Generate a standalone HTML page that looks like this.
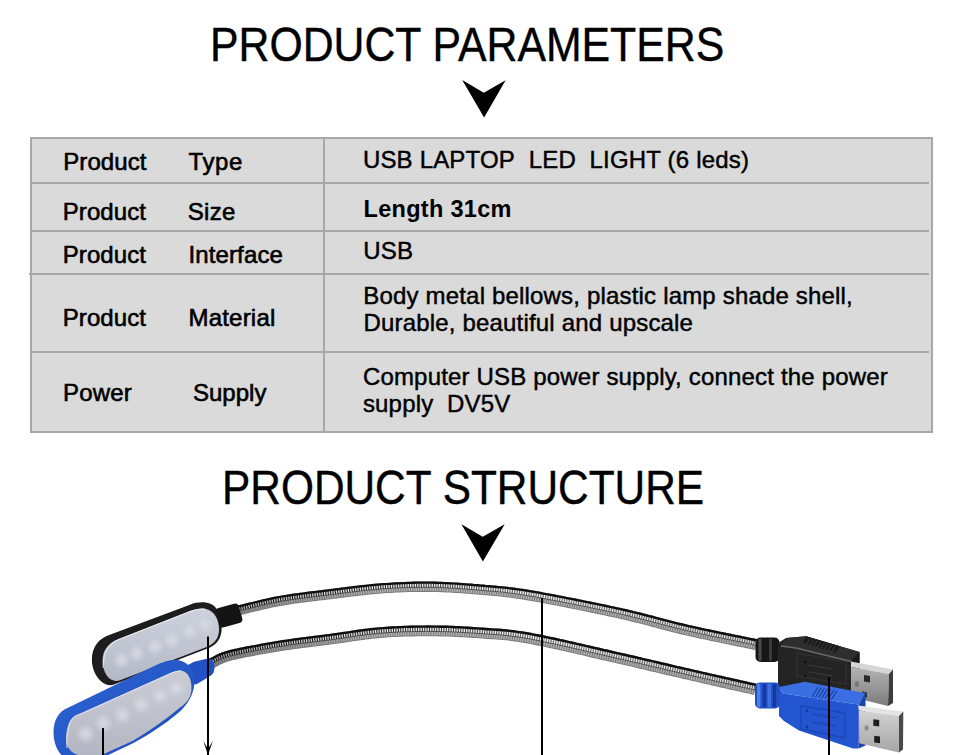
<!DOCTYPE html>
<html>
<head>
<meta charset="utf-8">
<style>
html,body{margin:0;padding:0;background:#fff;}
body{width:960px;height:755px;overflow:hidden;position:relative;font-family:"Liberation Sans",sans-serif;color:#000;}
.title{position:absolute;font-size:49.0px;white-space:nowrap;line-height:49.0px;transform-origin:0 0;-webkit-text-stroke:0.4px #000;}
#tbl{position:absolute;left:30px;top:137px;width:899px;height:292px;border:2px solid #a8a8a8;background:#dadada;}
.hl{position:absolute;left:32px;width:897px;height:2px;background:#a8a8a8;}
.vl{position:absolute;left:323px;top:139px;width:2px;height:292px;background:#a8a8a8;}
.c{position:absolute;white-space:nowrap;line-height:24px;}
svg{position:absolute;left:0;top:0;}
</style>
</head>
<body>
<div class="title" id="t1" style="left:209.6px;top:20.0px;transform:scaleX(0.873);">PRODUCT PARAMETERS</div>
<div class="title" id="t2" style="left:221.7px;top:463.0px;transform:scaleX(0.8653);">PRODUCT STRUCTURE</div>
<div id="tbl"></div>
<div class="hl" style="top:182px"></div>
<div class="hl" style="top:230px"></div>
<div class="hl" style="top:273px;left:29px;width:900px"></div>
<div class="hl" style="top:351px"></div>
<div class="vl"></div>
<div class="c" id="a1" style="left:63.20px;top:149.50px;letter-spacing:0.100px;font-size:24px;-webkit-text-stroke:0.6px #000;">Product</div>
<div class="c" id="a2" style="left:188.50px;top:149.50px;letter-spacing:0.600px;font-size:24px;-webkit-text-stroke:0.6px #000;">Type</div>
<div class="c" id="b1" style="left:62.70px;top:200.30px;letter-spacing:0.100px;font-size:24px;-webkit-text-stroke:0.6px #000;">Product</div>
<div class="c" id="b2" style="left:187.70px;top:200.30px;letter-spacing:0.300px;font-size:24px;-webkit-text-stroke:0.6px #000;">Size</div>
<div class="c" id="c1" style="left:62.70px;top:243.00px;letter-spacing:0.100px;font-size:24px;-webkit-text-stroke:0.6px #000;">Product</div>
<div class="c" id="c2" style="left:188.50px;top:243.00px;letter-spacing:0.120px;font-size:24px;-webkit-text-stroke:0.6px #000;">Interface</div>
<div class="c" id="d1" style="left:62.70px;top:306.30px;letter-spacing:0.100px;font-size:24px;-webkit-text-stroke:0.6px #000;">Product</div>
<div class="c" id="d2" style="left:188.50px;top:306.30px;letter-spacing:0.200px;font-size:24px;-webkit-text-stroke:0.6px #000;">Material</div>
<div class="c" id="e1" style="left:63.00px;top:380.50px;letter-spacing:0.200px;font-size:24px;-webkit-text-stroke:0.6px #000;">Power</div>
<div class="c" id="e2" style="left:193.00px;top:380.50px;letter-spacing:0.000px;font-size:24px;-webkit-text-stroke:0.6px #000;">Supply</div>
<div class="c" id="f1" style="left:362.90px;top:148.30px;letter-spacing:0.180px;font-size:24px;-webkit-text-stroke:0.45px #000;">USB LAPTOP&nbsp; LED&nbsp; LIGHT (6 leds)</div>
<div class="c" id="g1" style="left:363.50px;top:197.00px;letter-spacing:0.300px;font-size:23.5px;font-weight:bold;">Length 31cm</div>
<div class="c" id="h1" style="left:363.30px;top:238.70px;letter-spacing:0.180px;font-size:24px;-webkit-text-stroke:0.45px #000;">USB</div>
<div class="c" id="i1" style="left:363.30px;top:283.50px;letter-spacing:0.180px;font-size:24px;-webkit-text-stroke:0.45px #000;">Body metal bellows, plastic lamp shade shell,</div>
<div class="c" id="i2" style="left:363.50px;top:311.00px;letter-spacing:0.180px;font-size:24px;-webkit-text-stroke:0.45px #000;">Durable, beautiful and upscale</div>
<div class="c" id="j1" style="left:362.90px;top:364.80px;letter-spacing:0.180px;font-size:24px;-webkit-text-stroke:0.45px #000;">Computer USB power supply, connect the power</div>
<div class="c" id="j2" style="left:362.90px;top:391.70px;letter-spacing:0.180px;font-size:24px;-webkit-text-stroke:0.45px #000;">supply&nbsp; DV5V</div>
<svg width="960" height="755" viewBox="0 0 960 755">
<polygon points="462.2,80 483.8,92.8 505.6,80.2 484.1,117.5" fill="#000"/>
<polygon points="461.4,524.2 482.7,536.7 504.7,524.2 482.9,561.4" fill="#000"/>
<defs>
<radialGradient id="led"><stop offset="0" stop-color="#d9dce5" stop-opacity="0.95"/><stop offset="0.5" stop-color="#d4d7e0" stop-opacity="0.6"/><stop offset="1" stop-color="#cfd2dc" stop-opacity="0"/></radialGradient>
<linearGradient id="bface" x1="0" y1="0" x2="0" y2="1"><stop offset="0" stop-color="#cdd1dc"/><stop offset="0.5" stop-color="#c2c6d2"/><stop offset="1" stop-color="#b4b8c6"/></linearGradient>
<linearGradient id="uface" x1="0" y1="0" x2="0" y2="1"><stop offset="0" stop-color="#c9cbd5"/><stop offset="0.5" stop-color="#bfc1cc"/><stop offset="1" stop-color="#b3b5c2"/></linearGradient>
<linearGradient id="cabU" gradientUnits="userSpaceOnUse" x1="220" y1="0" x2="760" y2="0"><stop offset="0" stop-color="#b0b0b0"/><stop offset="0.25" stop-color="#e6e6e6"/><stop offset="0.6" stop-color="#f2f2f2"/><stop offset="1" stop-color="#dedede"/></linearGradient>
<linearGradient id="cabL" gradientUnits="userSpaceOnUse" x1="220" y1="0" x2="760" y2="0"><stop offset="0" stop-color="#8a8a8a"/><stop offset="0.3" stop-color="#b8b8b8"/><stop offset="1" stop-color="#b0b0b0"/></linearGradient>
<linearGradient id="stU" gradientUnits="userSpaceOnUse" x1="220" y1="0" x2="760" y2="0"><stop offset="0" stop-color="#000"/><stop offset="0.3" stop-color="#2a2a2a"/><stop offset="0.6" stop-color="#6a6a6a"/><stop offset="1" stop-color="#5a5a5a"/></linearGradient>
<linearGradient id="blueg" x1="0" y1="0" x2="1" y2="1"><stop offset="0" stop-color="#2f66d6"/><stop offset="1" stop-color="#1c4bb8"/></linearGradient>
</defs>
<path d="M234.9,606.1 L237.8,605.4 L240.7,604.8 L243.6,604.0 L246.5,603.3 L249.4,602.6 L252.3,601.9 L255.2,601.2 L258.1,600.4 L261.1,599.7 L264.0,599.1 L267.0,598.4 L270.0,597.7 L273.0,597.1 L276.0,596.5 L279.0,596.0 L282.0,595.4 L285.0,594.9 L288.0,594.5 L291.0,594.0 L294.0,593.6 L297.0,593.2 L300.0,592.8 L302.9,592.4 L305.9,592.0 L308.9,591.6 L311.9,591.3 L314.9,590.9 L317.9,590.5 L320.9,590.2 L323.8,589.8 L326.8,589.5 L329.8,589.1 L332.7,588.7 L335.7,588.3 L338.7,588.0 L341.6,587.6 L344.6,587.2 L347.6,586.8 L350.6,586.4 L353.6,586.1 L356.6,585.7 L359.6,585.3 L362.6,585.0 L365.6,584.7 L368.6,584.4 L371.6,584.1 L374.6,583.8 L377.7,583.5 L380.7,583.3 L383.7,583.1 L386.7,582.9 L389.7,582.7 L392.7,582.5 L395.8,582.3 L398.8,582.2 L401.8,582.0 L404.8,581.9 L407.9,581.8 L410.9,581.7 L413.9,581.6 L416.9,581.6 L420.0,581.5 L423.0,581.5 L426.0,581.5 L429.1,581.5 L432.1,581.5 L435.1,581.6 L438.2,581.7 L441.2,581.8 L444.2,581.9 L447.3,582.0 L450.3,582.2 L453.3,582.4 L456.3,582.5 L459.3,582.7 L462.4,582.9 L465.4,583.2 L468.4,583.4 L471.4,583.6 L474.4,583.9 L477.4,584.1 L480.4,584.4 L483.3,584.6 L486.3,584.9 L489.3,585.1 L492.3,585.4 L495.3,585.6 L498.3,585.9 L501.4,586.2 L504.4,586.5 L507.4,586.8 L510.4,587.2 L513.5,587.6 L516.5,588.0 L519.5,588.4 L522.5,588.8 L525.5,589.3 L528.5,589.8 L531.4,590.3 L534.4,590.8 L537.4,591.3 L540.4,591.8 L543.3,592.4 L546.3,592.9 L549.2,593.5 L552.2,594.0 L555.2,594.6 L558.1,595.2 L561.1,595.7 L564.0,596.3 L567.0,596.9 L569.9,597.4 L572.9,598.0 L575.8,598.6 L578.8,599.2 L581.7,599.8 L584.7,600.4 L587.6,601.0 L590.5,601.6 L593.5,602.2 L596.4,602.8 L599.4,603.4 L602.3,604.0 L605.3,604.6 L608.2,605.3 L611.2,605.9 L614.1,606.5 L617.0,607.2 L620.0,607.8 L622.9,608.5 L625.9,609.1 L628.8,609.8 L631.8,610.5 L634.7,611.2 L637.6,611.9 L640.6,612.6 L643.5,613.4 L646.4,614.1 L649.3,614.9 L652.3,615.6 L655.2,616.4 L658.1,617.2 L661.0,617.9 L663.9,618.7 L666.8,619.5 L669.6,620.2 L672.5,621.0 L675.4,621.7 L678.3,622.4 L681.2,623.1 L684.1,623.8 L687.0,624.5 L689.9,625.2 L692.8,625.8 L695.7,626.5 L698.6,627.1 L701.5,627.7 L704.5,628.4 L707.4,629.0 L710.3,629.6 L713.3,630.2 L716.2,630.8 L719.1,631.4 L722.0,632.0 L725.0,632.6 L727.9,633.2 L730.9,633.8 L733.8,634.4 L736.7,635.0 L739.7,635.6 L742.6,636.2 L745.6,636.8 L748.5,637.4 L751.4,638.0 L754.4,638.6 L757.3,639.2 L755.1,650.0 L752.1,649.4 L749.2,648.8 L746.3,648.2 L743.4,647.6 L740.4,647.0 L737.5,646.4 L734.5,645.8 L731.6,645.2 L728.7,644.5 L725.7,643.9 L722.8,643.3 L719.8,642.7 L716.9,642.1 L714.0,641.5 L711.0,640.9 L708.1,640.3 L705.1,639.6 L702.2,639.0 L699.2,638.4 L696.3,637.7 L693.4,637.1 L690.4,636.4 L687.5,635.7 L684.5,635.1 L681.6,634.4 L678.6,633.7 L675.7,632.9 L672.8,632.2 L669.8,631.5 L666.9,630.7 L664.0,629.9 L661.1,629.2 L658.2,628.4 L655.3,627.6 L652.4,626.9 L649.5,626.1 L646.6,625.3 L643.7,624.6 L640.8,623.8 L637.9,623.1 L635.1,622.4 L632.2,621.7 L629.3,620.9 L626.4,620.3 L623.5,619.6 L620.6,618.9 L617.7,618.3 L614.7,617.6 L611.8,617.0 L608.9,616.4 L606.0,615.7 L603.0,615.1 L600.1,614.5 L597.2,613.9 L594.3,613.3 L591.3,612.7 L588.4,612.0 L585.5,611.4 L582.5,610.8 L579.6,610.2 L576.7,609.6 L573.7,609.1 L570.8,608.5 L567.9,607.9 L564.9,607.3 L562.0,606.7 L559.0,606.1 L556.1,605.6 L553.2,605.0 L550.2,604.4 L547.3,603.9 L544.4,603.3 L541.4,602.8 L538.5,602.3 L535.5,601.7 L532.6,601.2 L529.7,600.7 L526.7,600.2 L523.8,599.7 L520.9,599.3 L517.9,598.8 L515.0,598.4 L512.1,598.0 L509.1,597.6 L506.2,597.3 L503.3,596.9 L500.3,596.6 L497.4,596.3 L494.4,596.1 L491.4,595.8 L488.5,595.6 L485.5,595.3 L482.5,595.1 L479.5,594.8 L476.5,594.5 L473.5,594.3 L470.5,594.0 L467.6,593.8 L464.6,593.6 L461.6,593.3 L458.6,593.1 L455.7,592.9 L452.7,592.8 L449.7,592.6 L446.8,592.4 L443.8,592.3 L440.8,592.2 L437.9,592.1 L434.9,592.0 L431.9,591.9 L429.0,591.9 L426.0,591.9 L423.0,591.9 L420.1,591.9 L417.1,591.9 L414.1,592.0 L411.2,592.0 L408.2,592.1 L405.2,592.2 L402.2,592.3 L399.3,592.5 L396.3,592.6 L393.3,592.8 L390.4,593.0 L387.4,593.1 L384.4,593.3 L381.4,593.5 L378.5,593.8 L375.5,594.0 L372.6,594.3 L369.6,594.6 L366.7,594.9 L363.7,595.2 L360.7,595.5 L357.8,595.9 L354.8,596.2 L351.9,596.6 L348.9,596.9 L345.9,597.3 L342.9,597.7 L340.0,598.1 L337.0,598.5 L334.0,598.8 L331.0,599.2 L328.0,599.6 L325.0,599.9 L322.1,600.3 L319.1,600.6 L316.1,601.0 L313.1,601.3 L310.2,601.7 L307.2,602.1 L304.2,602.4 L301.3,602.8 L298.3,603.2 L295.4,603.6 L292.4,604.0 L289.5,604.5 L286.6,604.9 L283.6,605.4 L280.7,605.9 L277.8,606.4 L275.0,607.0 L272.1,607.6 L269.2,608.2 L266.3,608.9 L263.4,609.5 L260.5,610.2 L257.6,610.9 L254.7,611.6 L251.8,612.3 L248.9,613.1 L245.9,613.8 L243.0,614.5 L240.1,615.2 L237.1,615.9 Z" fill="#7a7a7a"/>
<path d="M235.3,608.1 L238.2,607.4 L241.1,606.7 L244.0,606.0 L246.9,605.3 L249.9,604.6 L252.8,603.8 L255.7,603.1 L258.6,602.4 L261.5,601.7 L264.5,601.0 L267.4,600.3 L270.4,599.7 L273.4,599.1 L276.3,598.5 L279.3,597.9 L282.3,597.4 L285.3,596.9 L288.3,596.5 L291.3,596.0 L294.2,595.6 L297.2,595.2 L300.2,594.8 L303.2,594.4 L306.2,594.0 L309.2,593.6 L312.2,593.3 L315.1,592.9 L318.1,592.6 L321.1,592.2 L324.1,591.8 L327.0,591.5 L330.0,591.1 L333.0,590.7 L336.0,590.4 L338.9,590.0 L341.9,589.6 L344.9,589.2 L347.9,588.8 L350.8,588.5 L353.8,588.1 L356.8,587.7 L359.8,587.4 L362.8,587.0 L365.8,586.7 L368.8,586.4 L371.8,586.1 L374.8,585.8 L377.8,585.6 L380.8,585.3 L383.8,585.1 L386.8,584.9 L389.9,584.7 L392.9,584.6 L395.9,584.4 L398.9,584.2 L401.9,584.1 L404.9,584.0 L407.9,583.9 L410.9,583.8 L414.0,583.7 L417.0,583.6 L420.0,583.6 L423.0,583.6 L426.0,583.6 L429.0,583.6 L432.1,583.6 L435.1,583.7 L438.1,583.8 L441.1,583.9 L444.1,584.0 L447.2,584.1 L450.2,584.3 L453.2,584.4 L456.2,584.6 L459.2,584.8 L462.2,585.0 L465.2,585.2 L468.2,585.5 L471.2,585.7 L474.2,586.0 L477.2,586.2 L480.2,586.5 L483.2,586.7 L486.2,587.0 L489.1,587.2 L492.1,587.5 L495.1,587.7 L498.1,588.0 L501.2,588.3 L504.2,588.6 L507.2,588.9 L510.2,589.3 L513.2,589.6 L516.2,590.0 L519.2,590.5 L522.2,590.9 L525.1,591.4 L528.1,591.9 L531.1,592.4 L534.1,592.9 L537.0,593.4 L540.0,593.9 L542.9,594.5 L545.9,595.0 L548.9,595.6 L551.8,596.1 L554.8,596.7 L557.7,597.2 L560.7,597.8 L563.6,598.4 L566.6,599.0 L569.5,599.5 L572.5,600.1 L575.4,600.7 L578.3,601.3 L581.3,601.9 L584.2,602.5 L587.2,603.1 L590.1,603.7 L593.1,604.3 L596.0,604.9 L598.9,605.5 L601.9,606.1 L604.8,606.7 L607.8,607.4 L610.7,608.0 L613.6,608.6 L616.6,609.3 L619.5,609.9 L622.5,610.5 L625.4,611.2 L628.3,611.9 L631.3,612.6 L634.2,613.3 L637.1,614.0 L640.0,614.7 L643.0,615.5 L645.9,616.2 L648.8,617.0 L651.7,617.7 L654.6,618.5 L657.5,619.3 L660.4,620.0 L663.3,620.8 L666.2,621.6 L669.1,622.3 L672.0,623.1 L674.9,623.8 L677.8,624.5 L680.7,625.2 L683.6,625.9 L686.5,626.6 L689.4,627.3 L692.3,627.9 L695.2,628.6 L698.2,629.2 L701.1,629.9 L704.0,630.5 L706.9,631.1 L709.9,631.7 L712.8,632.3 L715.7,633.0 L718.7,633.6 L721.6,634.2 L724.5,634.8 L727.5,635.4 L730.4,636.0 L733.4,636.6 L736.3,637.2 L739.2,637.8 L742.2,638.4 L745.1,639.0 L748.1,639.6 L751.0,640.2 L753.9,640.8 L756.9,641.4 L756.1,645.3 L753.1,644.7 L750.2,644.0 L747.3,643.4 L744.3,642.8 L741.4,642.2 L738.4,641.6 L735.5,641.0 L732.6,640.4 L729.6,639.8 L726.7,639.2 L723.7,638.6 L720.8,638.0 L717.9,637.4 L714.9,636.8 L712.0,636.2 L709.1,635.6 L706.1,634.9 L703.2,634.3 L700.3,633.7 L697.3,633.0 L694.4,632.4 L691.5,631.7 L688.5,631.1 L685.6,630.4 L682.7,629.7 L679.8,629.0 L676.8,628.3 L673.9,627.6 L671.0,626.8 L668.1,626.1 L665.2,625.3 L662.3,624.6 L659.4,623.8 L656.5,623.0 L653.6,622.3 L650.7,621.5 L647.8,620.7 L644.9,620.0 L642.0,619.2 L639.1,618.5 L636.2,617.8 L633.3,617.1 L630.4,616.3 L627.5,615.7 L624.5,615.0 L621.6,614.3 L618.7,613.7 L615.8,613.0 L612.8,612.4 L609.9,611.8 L607.0,611.1 L604.0,610.5 L601.1,609.9 L598.2,609.3 L595.2,608.7 L592.3,608.1 L589.3,607.4 L586.4,606.8 L583.5,606.2 L580.5,605.6 L577.6,605.1 L574.6,604.5 L571.7,603.9 L568.8,603.3 L565.8,602.7 L562.9,602.1 L559.9,601.6 L557.0,601.0 L554.0,600.4 L551.1,599.9 L548.2,599.3 L545.2,598.8 L542.3,598.2 L539.3,597.7 L536.4,597.1 L533.4,596.6 L530.4,596.1 L527.5,595.6 L524.5,595.1 L521.6,594.7 L518.6,594.2 L515.6,593.8 L512.7,593.4 L509.7,593.0 L506.7,592.7 L503.8,592.3 L500.8,592.0 L497.8,591.7 L494.8,591.5 L491.8,591.2 L488.8,591.0 L485.8,590.7 L482.9,590.5 L479.9,590.2 L476.9,590.0 L473.9,589.7 L470.9,589.5 L467.9,589.2 L464.9,589.0 L461.9,588.8 L458.9,588.6 L456.0,588.4 L453.0,588.2 L450.0,588.0 L447.0,587.9 L444.0,587.7 L441.0,587.6 L438.0,587.5 L435.0,587.4 L432.0,587.4 L429.0,587.3 L426.0,587.3 L423.0,587.3 L420.0,587.3 L417.0,587.4 L414.0,587.4 L411.0,587.5 L408.0,587.6 L405.0,587.7 L402.1,587.8 L399.1,587.9 L396.1,588.1 L393.1,588.3 L390.1,588.4 L387.1,588.6 L384.1,588.8 L381.1,589.0 L378.1,589.3 L375.1,589.5 L372.2,589.8 L369.2,590.1 L366.2,590.4 L363.2,590.7 L360.2,591.0 L357.3,591.4 L354.3,591.8 L351.3,592.1 L348.3,592.5 L345.3,592.9 L342.4,593.2 L339.4,593.6 L336.4,594.0 L333.4,594.4 L330.5,594.8 L327.5,595.1 L324.5,595.5 L321.5,595.8 L318.6,596.2 L315.6,596.6 L312.6,596.9 L309.6,597.3 L306.6,597.6 L303.7,598.0 L300.7,598.4 L297.7,598.8 L294.8,599.2 L291.8,599.6 L288.8,600.1 L285.9,600.5 L282.9,601.0 L280.0,601.5 L277.0,602.1 L274.1,602.6 L271.1,603.3 L268.2,603.9 L265.3,604.5 L262.4,605.2 L259.5,605.9 L256.5,606.6 L253.6,607.3 L250.7,608.1 L247.8,608.8 L244.9,609.5 L242.0,610.2 L239.1,610.9 L236.1,611.6 Z" fill="url(#cabU)" opacity="1"/>
<path d="M236.1,611.6 L239.1,610.9 L242.0,610.2 L244.9,609.5 L247.8,608.8 L250.7,608.1 L253.6,607.3 L256.5,606.6 L259.5,605.9 L262.4,605.2 L265.3,604.5 L268.2,603.9 L271.1,603.3 L274.1,602.6 L277.0,602.1 L280.0,601.5 L282.9,601.0 L285.9,600.5 L288.8,600.1 L291.8,599.6 L294.8,599.2 L297.7,598.8 L300.7,598.4 L303.7,598.0 L306.6,597.6 L309.6,597.3 L312.6,596.9 L315.6,596.6 L318.6,596.2 L321.5,595.8 L324.5,595.5 L327.5,595.1 L330.5,594.8 L333.4,594.4 L336.4,594.0 L339.4,593.6 L342.4,593.2 L345.3,592.9 L348.3,592.5 L351.3,592.1 L354.3,591.8 L357.3,591.4 L360.2,591.0 L363.2,590.7 L366.2,590.4 L369.2,590.1 L372.2,589.8 L375.1,589.5 L378.1,589.3 L381.1,589.0 L384.1,588.8 L387.1,588.6 L390.1,588.4 L393.1,588.3 L396.1,588.1 L399.1,587.9 L402.1,587.8 L405.0,587.7 L408.0,587.6 L411.0,587.5 L414.0,587.4 L417.0,587.4 L420.0,587.3 L423.0,587.3 L426.0,587.3 L429.0,587.3 L432.0,587.4 L435.0,587.4 L438.0,587.5 L441.0,587.6 L444.0,587.7 L447.0,587.9 L450.0,588.0 L453.0,588.2 L456.0,588.4 L458.9,588.6 L461.9,588.8 L464.9,589.0 L467.9,589.2 L470.9,589.5 L473.9,589.7 L476.9,590.0 L479.9,590.2 L482.9,590.5 L485.8,590.7 L488.8,591.0 L491.8,591.2 L494.8,591.5 L497.8,591.7 L500.8,592.0 L503.8,592.3 L506.7,592.7 L509.7,593.0 L512.7,593.4 L515.6,593.8 L518.6,594.2 L521.6,594.7 L524.5,595.1 L527.5,595.6 L530.4,596.1 L533.4,596.6 L536.4,597.1 L539.3,597.7 L542.3,598.2 L545.2,598.8 L548.2,599.3 L551.1,599.9 L554.0,600.4 L557.0,601.0 L559.9,601.6 L562.9,602.1 L565.8,602.7 L568.8,603.3 L571.7,603.9 L574.6,604.5 L577.6,605.1 L580.5,605.6 L583.5,606.2 L586.4,606.8 L589.3,607.4 L592.3,608.1 L595.2,608.7 L598.2,609.3 L601.1,609.9 L604.0,610.5 L607.0,611.1 L609.9,611.8 L612.8,612.4 L615.8,613.0 L618.7,613.7 L621.6,614.3 L624.5,615.0 L627.5,615.7 L630.4,616.3 L633.3,617.1 L636.2,617.8 L639.1,618.5 L642.0,619.2 L644.9,620.0 L647.8,620.7 L650.7,621.5 L653.6,622.3 L656.5,623.0 L659.4,623.8 L662.3,624.6 L665.2,625.3 L668.1,626.1 L671.0,626.8 L673.9,627.6 L676.8,628.3 L679.8,629.0 L682.7,629.7 L685.6,630.4 L688.5,631.1 L691.5,631.7 L694.4,632.4 L697.3,633.0 L700.3,633.7 L703.2,634.3 L706.1,634.9 L709.1,635.6 L712.0,636.2 L714.9,636.8 L717.9,637.4 L720.8,638.0 L723.7,638.6 L726.7,639.2 L729.6,639.8 L732.6,640.4 L735.5,641.0 L738.4,641.6 L741.4,642.2 L744.3,642.8 L747.3,643.4 L750.2,644.0 L753.1,644.7 L756.1,645.3 L755.3,648.9 L752.4,648.3 L749.4,647.7 L746.5,647.1 L743.6,646.5 L740.6,645.9 L737.7,645.3 L734.8,644.7 L731.8,644.1 L728.9,643.5 L725.9,642.9 L723.0,642.3 L720.1,641.7 L717.1,641.0 L714.2,640.4 L711.2,639.8 L708.3,639.2 L705.4,638.6 L702.4,637.9 L699.5,637.3 L696.5,636.7 L693.6,636.0 L690.7,635.4 L687.7,634.7 L684.8,634.0 L681.8,633.3 L678.9,632.6 L676.0,631.9 L673.0,631.2 L670.1,630.4 L667.2,629.7 L664.3,628.9 L661.4,628.1 L658.5,627.4 L655.6,626.6 L652.7,625.8 L649.8,625.0 L646.9,624.3 L644.0,623.5 L641.1,622.8 L638.2,622.0 L635.3,621.3 L632.4,620.6 L629.5,619.9 L626.6,619.2 L623.7,618.5 L620.8,617.9 L617.9,617.2 L615.0,616.6 L612.1,616.0 L609.1,615.3 L606.2,614.7 L603.3,614.1 L600.3,613.4 L597.4,612.8 L594.5,612.2 L591.5,611.6 L588.6,611.0 L585.7,610.4 L582.7,609.8 L579.8,609.2 L576.9,608.6 L573.9,608.0 L571.0,607.4 L568.1,606.8 L565.1,606.3 L562.2,605.7 L559.2,605.1 L556.3,604.5 L553.4,604.0 L550.4,603.4 L547.5,602.9 L544.5,602.3 L541.6,601.8 L538.7,601.2 L535.7,600.7 L532.8,600.2 L529.8,599.7 L526.9,599.2 L524.0,598.7 L521.0,598.2 L518.1,597.8 L515.2,597.4 L512.2,596.9 L509.3,596.6 L506.3,596.2 L503.4,595.9 L500.4,595.6 L497.5,595.3 L494.5,595.0 L491.5,594.8 L488.5,594.5 L485.6,594.3 L482.6,594.0 L479.6,593.8 L476.6,593.5 L473.6,593.3 L470.6,593.0 L467.6,592.8 L464.7,592.5 L461.7,592.3 L458.7,592.1 L455.7,591.9 L452.8,591.7 L449.8,591.5 L446.8,591.4 L443.8,591.2 L440.9,591.1 L437.9,591.0 L434.9,590.9 L432.0,590.9 L429.0,590.8 L426.0,590.8 L423.0,590.8 L420.1,590.8 L417.1,590.9 L414.1,590.9 L411.1,591.0 L408.2,591.1 L405.2,591.2 L402.2,591.3 L399.2,591.4 L396.2,591.6 L393.3,591.7 L390.3,591.9 L387.3,592.1 L384.3,592.3 L381.4,592.5 L378.4,592.7 L375.4,593.0 L372.5,593.3 L369.5,593.5 L366.6,593.9 L363.6,594.2 L360.6,594.5 L357.7,594.8 L354.7,595.2 L351.7,595.6 L348.8,595.9 L345.8,596.3 L342.8,596.7 L339.8,597.1 L336.9,597.4 L333.9,597.8 L330.9,598.2 L327.9,598.6 L324.9,598.9 L321.9,599.3 L319.0,599.6 L316.0,600.0 L313.0,600.3 L310.0,600.7 L307.1,601.1 L304.1,601.4 L301.1,601.8 L298.2,602.2 L295.2,602.6 L292.3,603.0 L289.3,603.5 L286.4,603.9 L283.5,604.4 L280.6,604.9 L277.7,605.4 L274.8,606.0 L271.9,606.6 L269.0,607.2 L266.1,607.9 L263.2,608.5 L260.3,609.2 L257.4,609.9 L254.5,610.6 L251.5,611.4 L248.6,612.1 L245.7,612.8 L242.8,613.5 L239.8,614.2 L236.9,614.9 Z" fill="url(#cabL)" opacity="1"/>
<path d="M235.7,609.8 L238.6,609.1 L241.6,608.5 L244.5,607.7 L247.4,607.0 L250.3,606.3 L253.2,605.6 L256.1,604.9 L259.0,604.2 L262.0,603.5 L264.9,602.8 L267.8,602.1 L270.8,601.5 L273.7,600.9 L276.7,600.3 L279.6,599.7 L282.6,599.2 L285.6,598.7 L288.5,598.3 L291.5,597.8 L294.5,597.4 L297.5,597.0 L300.5,596.6 L303.4,596.2 L306.4,595.8 L309.4,595.5 L312.4,595.1 L315.4,594.7 L318.3,594.4 L321.3,594.0 L324.3,593.7 L327.3,593.3 L330.2,592.9 L333.2,592.6 L336.2,592.2 L339.2,591.8 L342.1,591.4 L345.1,591.0 L348.1,590.7 L351.1,590.3 L354.1,589.9 L357.0,589.6 L360.0,589.2 L363.0,588.9 L366.0,588.5 L369.0,588.2 L372.0,587.9 L375.0,587.7 L378.0,587.4 L381.0,587.2 L384.0,587.0 L387.0,586.8 L390.0,586.6 L393.0,586.4 L396.0,586.2 L399.0,586.1 L402.0,585.9 L405.0,585.8 L408.0,585.7 L411.0,585.6 L414.0,585.6 L417.0,585.5 L420.0,585.5 L423.0,585.4 L426.0,585.4 L429.0,585.4 L432.0,585.5 L435.0,585.5 L438.1,585.6 L441.1,585.7 L444.1,585.8 L447.1,586.0 L450.1,586.1 L453.1,586.3 L456.1,586.5 L459.1,586.7 L462.1,586.9 L465.1,587.1 L468.1,587.3 L471.1,587.6 L474.0,587.8 L477.0,588.1 L480.0,588.3 L483.0,588.6 L486.0,588.8 L489.0,589.1 L492.0,589.3 L495.0,589.6 L498.0,589.9 L501.0,590.1 L504.0,590.4 L507.0,590.8 L509.9,591.1 L512.9,591.5 L515.9,591.9 L518.9,592.4 L521.9,592.8 L524.8,593.3 L527.8,593.7 L530.8,594.2 L533.7,594.8 L536.7,595.3 L539.6,595.8 L542.6,596.3 L545.6,596.9 L548.5,597.4 L551.5,598.0 L554.4,598.5 L557.4,599.1 L560.3,599.7 L563.2,600.3 L566.2,600.8 L569.1,601.4 L572.1,602.0 L575.0,602.6 L578.0,603.2 L580.9,603.8 L583.9,604.4 L586.8,605.0 L589.7,605.6 L592.7,606.2 L595.6,606.8 L598.5,607.4 L601.5,608.0 L604.4,608.6 L607.4,609.2 L610.3,609.9 L613.2,610.5 L616.2,611.1 L619.1,611.8 L622.0,612.4 L625.0,613.1 L627.9,613.8 L630.8,614.5 L633.7,615.2 L636.7,615.9 L639.6,616.6 L642.5,617.3 L645.4,618.1 L648.3,618.9 L651.2,619.6 L654.1,620.4 L657.0,621.2 L659.9,621.9 L662.8,622.7 L665.7,623.4 L668.6,624.2 L671.5,625.0 L674.4,625.7 L677.3,626.4 L680.2,627.1 L683.1,627.8 L686.0,628.5 L689.0,629.2 L691.9,629.8 L694.8,630.5 L697.7,631.1 L700.7,631.8 L703.6,632.4 L706.5,633.0 L709.5,633.6 L712.4,634.3 L715.3,634.9 L718.3,635.5 L721.2,636.1 L724.1,636.7 L727.1,637.3 L730.0,637.9 L733.0,638.5 L735.9,639.1 L738.8,639.7 L741.8,640.3 L744.7,640.9 L747.7,641.5 L750.6,642.1 L753.5,642.7 L756.5,643.3" fill="none" stroke="url(#stU)" stroke-width="3.78" stroke-dasharray="1.1 1.3" opacity="1"/>
<path d="M236.1,611.6 L239.1,610.9 L242.0,610.2 L244.9,609.5 L247.8,608.8 L250.7,608.1 L253.6,607.3 L256.5,606.6 L259.5,605.9 L262.4,605.2 L265.3,604.5 L268.2,603.9 L271.1,603.3 L274.1,602.6 L277.0,602.1 L280.0,601.5 L282.9,601.0 L285.9,600.5 L288.8,600.1 L291.8,599.6 L294.8,599.2 L297.7,598.8 L300.7,598.4 L303.7,598.0 L306.6,597.6 L309.6,597.3 L312.6,596.9 L315.6,596.6 L318.6,596.2 L321.5,595.8 L324.5,595.5 L327.5,595.1 L330.5,594.8 L333.4,594.4 L336.4,594.0 L339.4,593.6 L342.4,593.2 L345.3,592.9 L348.3,592.5 L351.3,592.1 L354.3,591.8 L357.3,591.4 L360.2,591.0 L363.2,590.7 L366.2,590.4 L369.2,590.1 L372.2,589.8 L375.1,589.5 L378.1,589.3 L381.1,589.0 L384.1,588.8 L387.1,588.6 L390.1,588.4 L393.1,588.3 L396.1,588.1 L399.1,587.9 L402.1,587.8 L405.0,587.7 L408.0,587.6 L411.0,587.5 L414.0,587.4 L417.0,587.4 L420.0,587.3 L423.0,587.3 L426.0,587.3 L429.0,587.3 L432.0,587.4 L435.0,587.4 L438.0,587.5 L441.0,587.6 L444.0,587.7 L447.0,587.9 L450.0,588.0 L453.0,588.2 L456.0,588.4 L458.9,588.6 L461.9,588.8 L464.9,589.0 L467.9,589.2 L470.9,589.5 L473.9,589.7 L476.9,590.0 L479.9,590.2 L482.9,590.5 L485.8,590.7 L488.8,591.0 L491.8,591.2 L494.8,591.5 L497.8,591.7 L500.8,592.0 L503.8,592.3 L506.7,592.7 L509.7,593.0 L512.7,593.4 L515.6,593.8 L518.6,594.2 L521.6,594.7 L524.5,595.1 L527.5,595.6 L530.4,596.1 L533.4,596.6 L536.4,597.1 L539.3,597.7 L542.3,598.2 L545.2,598.8 L548.2,599.3 L551.1,599.9 L554.0,600.4 L557.0,601.0 L559.9,601.6 L562.9,602.1 L565.8,602.7 L568.8,603.3 L571.7,603.9 L574.6,604.5 L577.6,605.1 L580.5,605.6 L583.5,606.2 L586.4,606.8 L589.3,607.4 L592.3,608.1 L595.2,608.7 L598.2,609.3 L601.1,609.9 L604.0,610.5 L607.0,611.1 L609.9,611.8 L612.8,612.4 L615.8,613.0 L618.7,613.7 L621.6,614.3 L624.5,615.0 L627.5,615.7 L630.4,616.3 L633.3,617.1 L636.2,617.8 L639.1,618.5 L642.0,619.2 L644.9,620.0 L647.8,620.7 L650.7,621.5 L653.6,622.3 L656.5,623.0 L659.4,623.8 L662.3,624.6 L665.2,625.3 L668.1,626.1 L671.0,626.8 L673.9,627.6 L676.8,628.3 L679.8,629.0 L682.7,629.7 L685.6,630.4 L688.5,631.1 L691.5,631.7 L694.4,632.4 L697.3,633.0 L700.3,633.7 L703.2,634.3 L706.1,634.9 L709.1,635.6 L712.0,636.2 L714.9,636.8 L717.9,637.4 L720.8,638.0 L723.7,638.6 L726.7,639.2 L729.6,639.8 L732.6,640.4 L735.5,641.0 L738.4,641.6 L741.4,642.2 L744.3,642.8 L747.3,643.4 L750.2,644.0 L753.1,644.7 L756.1,645.3" fill="none" stroke="#3a3a3a" stroke-width="0.945" stroke-dasharray="20 0" opacity="0.8"/>
<path d="M236.5,613.2 L239.5,612.6 L242.4,611.9 L245.3,611.2 L248.2,610.4 L251.1,609.7 L254.0,609.0 L257.0,608.3 L259.9,607.6 L262.8,606.9 L265.7,606.2 L268.6,605.6 L271.5,604.9 L274.4,604.3 L277.3,603.8 L280.3,603.2 L283.2,602.7 L286.1,602.2 L289.1,601.8 L292.0,601.3 L295.0,600.9 L298.0,600.5 L300.9,600.1 L303.9,599.7 L306.9,599.3 L309.8,599.0 L312.8,598.6 L315.8,598.3 L318.8,597.9 L321.7,597.6 L324.7,597.2 L327.7,596.8 L330.7,596.5 L333.7,596.1 L336.6,595.7 L339.6,595.3 L342.6,595.0 L345.6,594.6 L348.5,594.2 L351.5,593.8 L354.5,593.5 L357.5,593.1 L360.4,592.8 L363.4,592.4 L366.4,592.1 L369.3,591.8 L372.3,591.5 L375.3,591.3 L378.3,591.0 L381.2,590.8 L384.2,590.6 L387.2,590.4 L390.2,590.2 L393.2,590.0 L396.2,589.8 L399.1,589.7 L402.1,589.6 L405.1,589.4 L408.1,589.3 L411.1,589.2 L414.1,589.2 L417.1,589.1 L420.0,589.1 L423.0,589.1 L426.0,589.1 L429.0,589.1 L432.0,589.1 L435.0,589.2 L437.9,589.3 L440.9,589.4 L443.9,589.5 L446.9,589.6 L449.9,589.8 L452.9,589.9 L455.8,590.1 L458.8,590.3 L461.8,590.5 L464.8,590.8 L467.8,591.0 L470.8,591.2 L473.7,591.5 L476.7,591.7 L479.7,592.0 L482.7,592.2 L485.7,592.5 L488.7,592.7 L491.7,593.0 L494.7,593.2 L497.6,593.5 L500.6,593.8 L503.6,594.1 L506.5,594.4 L509.5,594.8 L512.4,595.2 L515.4,595.6 L518.4,596.0 L521.3,596.5 L524.3,596.9 L527.2,597.4 L530.1,597.9 L533.1,598.4 L536.0,598.9 L539.0,599.4 L541.9,600.0 L544.9,600.5 L547.8,601.1 L550.8,601.6 L553.7,602.2 L556.7,602.8 L559.6,603.3 L562.5,603.9 L565.5,604.5 L568.4,605.1 L571.4,605.6 L574.3,606.2 L577.2,606.8 L580.2,607.4 L583.1,608.0 L586.0,608.6 L589.0,609.2 L591.9,609.8 L594.8,610.4 L597.8,611.1 L600.7,611.7 L603.6,612.3 L606.6,612.9 L609.5,613.5 L612.4,614.2 L615.4,614.8 L618.3,615.5 L621.2,616.1 L624.1,616.8 L627.0,617.4 L629.9,618.1 L632.8,618.8 L635.8,619.5 L638.7,620.3 L641.6,621.0 L644.5,621.8 L647.3,622.5 L650.2,623.3 L653.1,624.0 L656.0,624.8 L658.9,625.6 L661.8,626.3 L664.7,627.1 L667.7,627.9 L670.6,628.6 L673.5,629.4 L676.4,630.1 L679.3,630.8 L682.3,631.5 L685.2,632.2 L688.1,632.9 L691.1,633.6 L694.0,634.2 L696.9,634.9 L699.9,635.5 L702.8,636.1 L705.7,636.8 L708.7,637.4 L711.6,638.0 L714.6,638.6 L717.5,639.2 L720.4,639.8 L723.4,640.4 L726.3,641.0 L729.3,641.7 L732.2,642.3 L735.1,642.9 L738.1,643.5 L741.0,644.1 L743.9,644.7 L746.9,645.3 L749.8,645.9 L752.8,646.5 L755.7,647.1" fill="none" stroke="#555" stroke-width="3.36" stroke-dasharray="1.1 1.3" opacity="0.6"/>
<path d="M234.9,606.1 L237.8,605.4 L240.7,604.8 L243.6,604.0 L246.5,603.3 L249.4,602.6 L252.3,601.9 L255.2,601.2 L258.1,600.4 L261.1,599.7 L264.0,599.1 L267.0,598.4 L270.0,597.7 L273.0,597.1 L276.0,596.5 L279.0,596.0 L282.0,595.4 L285.0,594.9 L288.0,594.5 L291.0,594.0 L294.0,593.6 L297.0,593.2 L300.0,592.8 L302.9,592.4 L305.9,592.0 L308.9,591.6 L311.9,591.3 L314.9,590.9 L317.9,590.5 L320.9,590.2 L323.8,589.8 L326.8,589.5 L329.8,589.1 L332.7,588.7 L335.7,588.3 L338.7,588.0 L341.6,587.6 L344.6,587.2 L347.6,586.8 L350.6,586.4 L353.6,586.1 L356.6,585.7 L359.6,585.3 L362.6,585.0 L365.6,584.7 L368.6,584.4 L371.6,584.1 L374.6,583.8 L377.7,583.5 L380.7,583.3 L383.7,583.1 L386.7,582.9 L389.7,582.7 L392.7,582.5 L395.8,582.3 L398.8,582.2 L401.8,582.0 L404.8,581.9 L407.9,581.8 L410.9,581.7 L413.9,581.6 L416.9,581.6 L420.0,581.5 L423.0,581.5 L426.0,581.5 L429.1,581.5 L432.1,581.5 L435.1,581.6 L438.2,581.7 L441.2,581.8 L444.2,581.9 L447.3,582.0 L450.3,582.2 L453.3,582.4 L456.3,582.5 L459.3,582.7 L462.4,582.9 L465.4,583.2 L468.4,583.4 L471.4,583.6 L474.4,583.9 L477.4,584.1 L480.4,584.4 L483.3,584.6 L486.3,584.9 L489.3,585.1 L492.3,585.4 L495.3,585.6 L498.3,585.9 L501.4,586.2 L504.4,586.5 L507.4,586.8 L510.4,587.2 L513.5,587.6 L516.5,588.0 L519.5,588.4 L522.5,588.8 L525.5,589.3 L528.5,589.8 L531.4,590.3 L534.4,590.8 L537.4,591.3 L540.4,591.8 L543.3,592.4 L546.3,592.9 L549.2,593.5 L552.2,594.0 L555.2,594.6 L558.1,595.2 L561.1,595.7 L564.0,596.3 L567.0,596.9 L569.9,597.4 L572.9,598.0 L575.8,598.6 L578.8,599.2 L581.7,599.8 L584.7,600.4 L587.6,601.0 L590.5,601.6 L593.5,602.2 L596.4,602.8 L599.4,603.4 L602.3,604.0 L605.3,604.6 L608.2,605.3 L611.2,605.9 L614.1,606.5 L617.0,607.2 L620.0,607.8 L622.9,608.5 L625.9,609.1 L628.8,609.8 L631.8,610.5 L634.7,611.2 L637.6,611.9 L640.6,612.6 L643.5,613.4 L646.4,614.1 L649.3,614.9 L652.3,615.6 L655.2,616.4 L658.1,617.2 L661.0,617.9 L663.9,618.7 L666.8,619.5 L669.6,620.2 L672.5,621.0 L675.4,621.7 L678.3,622.4 L681.2,623.1 L684.1,623.8 L687.0,624.5 L689.9,625.2 L692.8,625.8 L695.7,626.5 L698.6,627.1 L701.5,627.7 L704.5,628.4 L707.4,629.0 L710.3,629.6 L713.3,630.2 L716.2,630.8 L719.1,631.4 L722.0,632.0 L725.0,632.6 L727.9,633.2 L730.9,633.8 L733.8,634.4 L736.7,635.0 L739.7,635.6 L742.6,636.2 L745.6,636.8 L748.5,637.4 L751.4,638.0 L754.4,638.6 L757.3,639.2 L756.8,641.6 L753.9,641.0 L751.0,640.4 L748.0,639.8 L745.1,639.2 L742.1,638.6 L739.2,638.0 L736.3,637.4 L733.3,636.8 L730.4,636.2 L727.4,635.6 L724.5,635.0 L721.6,634.4 L718.6,633.8 L715.7,633.2 L712.8,632.6 L709.8,631.9 L706.9,631.3 L704.0,630.7 L701.0,630.1 L698.1,629.4 L695.2,628.8 L692.3,628.1 L689.4,627.5 L686.4,626.8 L683.5,626.1 L680.6,625.4 L677.7,624.7 L674.8,624.0 L671.9,623.3 L669.0,622.5 L666.1,621.8 L663.2,621.0 L660.4,620.2 L657.5,619.5 L654.6,618.7 L651.6,617.9 L648.7,617.2 L645.8,616.4 L642.9,615.7 L640.0,614.9 L637.1,614.2 L634.1,613.5 L631.2,612.8 L628.3,612.1 L625.3,611.4 L622.4,610.8 L619.5,610.1 L616.5,609.5 L613.6,608.8 L610.7,608.2 L607.7,607.6 L604.8,606.9 L601.8,606.3 L598.9,605.7 L596.0,605.1 L593.0,604.5 L590.1,603.9 L587.1,603.3 L584.2,602.7 L581.2,602.1 L578.3,601.5 L575.4,600.9 L572.4,600.3 L569.5,599.7 L566.5,599.2 L563.6,598.6 L560.6,598.0 L557.7,597.4 L554.7,596.9 L551.8,596.3 L548.8,595.8 L545.9,595.2 L542.9,594.7 L539.9,594.1 L537.0,593.6 L534.0,593.1 L531.0,592.6 L528.1,592.1 L525.1,591.6 L522.1,591.1 L519.1,590.7 L516.1,590.3 L513.1,589.9 L510.2,589.5 L507.1,589.1 L504.1,588.8 L501.1,588.5 L498.1,588.2 L495.1,587.9 L492.1,587.7 L489.1,587.4 L486.1,587.2 L483.2,586.9 L480.2,586.7 L477.2,586.4 L474.2,586.2 L471.2,585.9 L468.2,585.7 L465.2,585.5 L462.2,585.2 L459.2,585.0 L456.2,584.8 L453.2,584.6 L450.2,584.5 L447.1,584.3 L444.1,584.2 L441.1,584.1 L438.1,584.0 L435.1,583.9 L432.1,583.8 L429.0,583.8 L426.0,583.8 L423.0,583.8 L420.0,583.8 L417.0,583.8 L414.0,583.9 L410.9,584.0 L407.9,584.1 L404.9,584.2 L401.9,584.3 L398.9,584.4 L395.9,584.6 L392.9,584.8 L389.9,584.9 L386.9,585.1 L383.9,585.3 L380.8,585.6 L377.8,585.8 L374.8,586.0 L371.8,586.3 L368.8,586.6 L365.8,586.9 L362.8,587.2 L359.8,587.6 L356.8,587.9 L353.9,588.3 L350.9,588.7 L347.9,589.0 L344.9,589.4 L341.9,589.8 L339.0,590.2 L336.0,590.6 L333.0,590.9 L330.0,591.3 L327.1,591.7 L324.1,592.1 L321.1,592.4 L318.1,592.8 L315.2,593.1 L312.2,593.5 L309.2,593.8 L306.2,594.2 L303.2,594.6 L300.2,595.0 L297.3,595.4 L294.3,595.8 L291.3,596.2 L288.3,596.7 L285.3,597.1 L282.3,597.6 L279.4,598.1 L276.4,598.7 L273.4,599.3 L270.4,599.9 L267.5,600.5 L264.5,601.2 L261.6,601.9 L258.7,602.6 L255.7,603.3 L252.8,604.0 L249.9,604.7 L247.0,605.5 L244.1,606.2 L241.2,606.9 L238.3,607.6 L235.4,608.3 Z" fill="#0e0e0e" opacity="1"/>
<path d="M207.8,659.2 L210.4,658.0 L212.9,656.7 L215.6,655.2 L218.6,653.8 L221.7,652.5 L224.8,651.5 L227.8,650.6 L230.9,649.8 L233.9,649.1 L236.9,648.5 L239.8,647.8 L242.8,647.2 L245.8,646.6 L248.7,646.0 L251.7,645.5 L254.7,644.9 L257.6,644.4 L260.6,643.8 L263.6,643.3 L266.5,642.8 L269.5,642.3 L272.5,641.8 L275.4,641.3 L278.4,640.8 L281.4,640.3 L284.4,639.8 L287.4,639.4 L290.4,638.9 L293.4,638.5 L296.4,638.1 L299.4,637.7 L302.4,637.3 L305.3,636.9 L308.3,636.6 L311.3,636.2 L314.3,635.8 L317.3,635.4 L320.2,635.1 L323.2,634.7 L326.2,634.3 L329.1,633.9 L332.1,633.5 L335.0,633.1 L338.0,632.7 L340.9,632.2 L343.9,631.8 L346.9,631.4 L349.8,630.9 L352.8,630.5 L355.8,630.0 L358.8,629.6 L361.8,629.2 L364.8,628.8 L367.8,628.4 L370.8,628.1 L373.8,627.8 L376.9,627.5 L379.9,627.2 L383.0,626.9 L386.0,626.7 L389.0,626.5 L392.0,626.3 L395.1,626.2 L398.1,626.0 L401.1,625.9 L404.1,625.8 L407.2,625.7 L410.2,625.6 L413.2,625.5 L416.2,625.4 L419.3,625.4 L422.3,625.4 L425.3,625.4 L428.3,625.3 L431.4,625.4 L434.4,625.4 L437.4,625.4 L440.4,625.5 L443.5,625.5 L446.5,625.6 L449.5,625.7 L452.5,625.8 L455.6,625.9 L458.6,626.1 L461.6,626.2 L464.6,626.4 L467.6,626.6 L470.6,626.7 L473.7,626.9 L476.7,627.2 L479.7,627.4 L482.7,627.6 L485.6,627.8 L488.6,628.0 L491.6,628.2 L494.6,628.4 L497.6,628.6 L500.7,628.8 L503.7,629.1 L506.8,629.3 L509.8,629.7 L512.9,630.0 L515.9,630.4 L518.9,630.9 L521.9,631.3 L524.9,631.8 L527.9,632.3 L530.9,632.8 L533.9,633.4 L536.9,634.0 L539.9,634.5 L542.8,635.1 L545.8,635.8 L548.7,636.4 L551.7,637.0 L554.6,637.6 L557.6,638.3 L560.5,638.9 L563.5,639.6 L566.4,640.2 L569.3,640.9 L572.3,641.6 L575.2,642.2 L578.1,642.9 L581.1,643.6 L584.0,644.2 L586.9,644.9 L589.8,645.6 L592.8,646.3 L595.7,646.9 L598.6,647.6 L601.5,648.3 L604.4,649.0 L607.4,649.6 L610.3,650.3 L613.2,651.0 L616.1,651.7 L619.0,652.3 L622.0,653.0 L624.9,653.6 L627.8,654.3 L630.8,655.0 L633.7,655.6 L636.6,656.3 L639.5,657.0 L642.5,657.7 L645.4,658.4 L648.3,659.0 L651.2,659.7 L654.2,660.4 L657.1,661.1 L660.0,661.8 L662.9,662.4 L665.9,663.1 L668.8,663.8 L671.7,664.5 L674.6,665.2 L677.5,665.9 L680.4,666.5 L683.4,667.2 L686.3,667.9 L689.2,668.5 L692.1,669.2 L695.1,669.9 L698.0,670.5 L700.9,671.2 L703.8,671.9 L706.7,672.5 L709.7,673.2 L712.6,673.9 L715.5,674.5 L718.4,675.2 L721.4,675.8 L724.3,676.5 L727.2,677.2 L730.2,677.8 L733.1,678.5 L736.0,679.1 L738.9,679.8 L741.9,680.5 L744.8,681.1 L747.7,681.8 L750.6,682.4 L753.6,683.1 L756.5,683.8 L753.9,695.0 L751.0,694.3 L748.1,693.6 L745.2,693.0 L742.2,692.3 L739.3,691.6 L736.4,691.0 L733.5,690.3 L730.5,689.7 L727.6,689.0 L724.7,688.3 L721.8,687.7 L718.8,687.0 L715.9,686.3 L713.0,685.7 L710.1,685.0 L707.1,684.3 L704.2,683.7 L701.3,683.0 L698.4,682.3 L695.4,681.6 L692.5,681.0 L689.6,680.3 L686.7,679.6 L683.7,679.0 L680.8,678.3 L677.9,677.6 L675.0,676.9 L672.0,676.2 L669.1,675.5 L666.2,674.9 L663.3,674.2 L660.3,673.5 L657.4,672.8 L654.5,672.1 L651.6,671.4 L648.7,670.7 L645.7,670.0 L642.8,669.3 L639.9,668.7 L637.0,668.0 L634.1,667.3 L631.2,666.6 L628.2,666.0 L625.3,665.3 L622.4,664.6 L619.5,664.0 L616.5,663.3 L613.6,662.6 L610.7,661.9 L607.8,661.3 L604.8,660.6 L601.9,659.9 L599.0,659.2 L596.1,658.5 L593.1,657.9 L590.2,657.2 L587.3,656.5 L584.4,655.8 L581.5,655.1 L578.5,654.5 L575.6,653.8 L572.7,653.1 L569.8,652.4 L566.9,651.8 L564.0,651.1 L561.0,650.5 L558.1,649.8 L555.2,649.2 L552.3,648.5 L549.4,647.9 L546.4,647.3 L543.5,646.6 L540.6,646.0 L537.7,645.4 L534.8,644.9 L531.9,644.3 L529.0,643.7 L526.0,643.2 L523.1,642.7 L520.2,642.3 L517.3,641.8 L514.4,641.4 L511.5,641.0 L508.6,640.6 L505.6,640.3 L502.7,640.0 L499.8,639.8 L496.8,639.6 L493.9,639.3 L490.9,639.2 L487.9,639.0 L484.9,638.8 L481.9,638.5 L478.9,638.3 L475.9,638.1 L472.9,637.9 L469.9,637.7 L467.0,637.5 L464.0,637.3 L461.0,637.2 L458.1,637.0 L455.1,636.9 L452.1,636.8 L449.1,636.6 L446.2,636.5 L443.2,636.5 L440.2,636.4 L437.2,636.3 L434.3,636.3 L431.3,636.3 L428.3,636.2 L425.3,636.2 L422.4,636.3 L419.4,636.3 L416.4,636.3 L413.4,636.4 L410.5,636.4 L407.5,636.5 L404.5,636.6 L401.6,636.7 L398.6,636.8 L395.6,637.0 L392.7,637.1 L389.7,637.3 L386.7,637.5 L383.8,637.7 L380.8,638.0 L377.9,638.2 L375.0,638.5 L372.0,638.8 L369.1,639.2 L366.1,639.5 L363.2,639.9 L360.3,640.3 L357.3,640.7 L354.3,641.1 L351.4,641.6 L348.4,642.0 L345.5,642.4 L342.5,642.9 L339.5,643.3 L336.5,643.7 L333.5,644.1 L330.5,644.5 L327.5,644.9 L324.5,645.3 L321.6,645.7 L318.6,646.1 L315.6,646.4 L312.6,646.8 L309.7,647.2 L306.7,647.5 L303.7,647.9 L300.8,648.3 L297.8,648.7 L294.8,649.1 L291.9,649.5 L288.9,649.9 L286.0,650.3 L283.1,650.8 L280.1,651.3 L277.2,651.7 L274.2,652.2 L271.3,652.7 L268.3,653.2 L265.4,653.7 L262.5,654.3 L259.5,654.8 L256.6,655.3 L253.7,655.9 L250.7,656.4 L247.8,657.0 L244.9,657.6 L242.0,658.2 L239.1,658.8 L236.2,659.4 L233.4,660.1 L230.6,660.8 L227.9,661.6 L225.3,662.4 L222.8,663.4 L220.4,664.6 L217.9,665.9 L215.1,667.4 L212.2,668.8 Z" fill="#7a7a7a"/>
<path d="M208.7,661.1 L211.3,659.9 L213.9,658.5 L216.6,657.1 L219.4,655.7 L222.4,654.5 L225.4,653.5 L228.4,652.7 L231.4,651.9 L234.3,651.2 L237.3,650.5 L240.3,649.9 L243.2,649.3 L246.2,648.7 L249.1,648.1 L252.1,647.6 L255.1,647.0 L258.0,646.5 L261.0,645.9 L263.9,645.4 L266.9,644.9 L269.9,644.4 L272.8,643.9 L275.8,643.4 L278.8,642.9 L281.7,642.4 L284.7,641.9 L287.7,641.5 L290.7,641.0 L293.7,640.6 L296.7,640.2 L299.6,639.8 L302.6,639.4 L305.6,639.1 L308.6,638.7 L311.6,638.3 L314.5,637.9 L317.5,637.6 L320.5,637.2 L323.5,636.8 L326.4,636.4 L329.4,636.0 L332.4,635.6 L335.3,635.2 L338.3,634.8 L341.2,634.4 L344.2,633.9 L347.2,633.5 L350.1,633.0 L353.1,632.6 L356.1,632.2 L359.1,631.8 L362.1,631.3 L365.1,631.0 L368.1,630.6 L371.1,630.2 L374.1,629.9 L377.1,629.6 L380.1,629.3 L383.1,629.1 L386.1,628.9 L389.1,628.7 L392.2,628.5 L395.2,628.3 L398.2,628.2 L401.2,628.0 L404.2,627.9 L407.2,627.8 L410.3,627.7 L413.3,627.7 L416.3,627.6 L419.3,627.6 L422.3,627.5 L425.3,627.5 L428.3,627.5 L431.3,627.5 L434.4,627.6 L437.4,627.6 L440.4,627.6 L443.4,627.7 L446.4,627.8 L449.4,627.9 L452.5,628.0 L455.5,628.1 L458.5,628.3 L461.5,628.4 L464.5,628.6 L467.5,628.8 L470.5,628.9 L473.5,629.1 L476.5,629.3 L479.5,629.6 L482.5,629.8 L485.5,630.0 L488.5,630.2 L491.5,630.4 L494.5,630.6 L497.5,630.8 L500.5,631.0 L503.5,631.3 L506.5,631.5 L509.6,631.9 L512.6,632.2 L515.6,632.6 L518.6,633.0 L521.6,633.5 L524.6,634.0 L527.6,634.5 L530.5,635.0 L533.5,635.6 L536.5,636.1 L539.4,636.7 L542.4,637.3 L545.3,637.9 L548.3,638.6 L551.2,639.2 L554.2,639.8 L557.1,640.5 L560.0,641.1 L563.0,641.8 L565.9,642.4 L568.8,643.1 L571.8,643.7 L574.7,644.4 L577.6,645.1 L580.6,645.7 L583.5,646.4 L586.4,647.1 L589.3,647.8 L592.3,648.4 L595.2,649.1 L598.1,649.8 L601.0,650.5 L603.9,651.2 L606.9,651.8 L609.8,652.5 L612.7,653.2 L615.6,653.8 L618.5,654.5 L621.5,655.2 L624.4,655.8 L627.3,656.5 L630.3,657.2 L633.2,657.8 L636.1,658.5 L639.0,659.2 L642.0,659.9 L644.9,660.5 L647.8,661.2 L650.7,661.9 L653.7,662.6 L656.6,663.3 L659.5,664.0 L662.4,664.7 L665.3,665.3 L668.3,666.0 L671.2,666.7 L674.1,667.4 L677.0,668.1 L679.9,668.7 L682.9,669.4 L685.8,670.1 L688.7,670.8 L691.6,671.4 L694.5,672.1 L697.5,672.8 L700.4,673.4 L703.3,674.1 L706.2,674.8 L709.2,675.4 L712.1,676.1 L715.0,676.7 L717.9,677.4 L720.9,678.1 L723.8,678.7 L726.7,679.4 L729.6,680.1 L732.6,680.7 L735.5,681.4 L738.4,682.0 L741.4,682.7 L744.3,683.4 L747.2,684.0 L750.1,684.7 L753.1,685.3 L756.0,686.0 L755.1,690.0 L752.1,689.4 L749.2,688.7 L746.3,688.0 L743.4,687.4 L740.4,686.7 L737.5,686.1 L734.6,685.4 L731.7,684.7 L728.7,684.1 L725.8,683.4 L722.9,682.7 L720.0,682.1 L717.0,681.4 L714.1,680.8 L711.2,680.1 L708.3,679.4 L705.3,678.8 L702.4,678.1 L699.5,677.4 L696.6,676.8 L693.6,676.1 L690.7,675.4 L687.8,674.7 L684.9,674.1 L681.9,673.4 L679.0,672.7 L676.1,672.0 L673.2,671.4 L670.2,670.7 L667.3,670.0 L664.4,669.3 L661.5,668.6 L658.6,667.9 L655.6,667.2 L652.7,666.6 L649.8,665.9 L646.9,665.2 L644.0,664.5 L641.0,663.8 L638.1,663.1 L635.2,662.5 L632.3,661.8 L629.3,661.1 L626.4,660.5 L623.5,659.8 L620.6,659.1 L617.6,658.5 L614.7,657.8 L611.8,657.1 L608.9,656.4 L606.0,655.8 L603.0,655.1 L600.1,654.4 L597.2,653.7 L594.3,653.0 L591.3,652.4 L588.4,651.7 L585.5,651.0 L582.6,650.3 L579.7,649.7 L576.7,649.0 L573.8,648.3 L570.9,647.7 L568.0,647.0 L565.0,646.3 L562.1,645.7 L559.2,645.0 L556.2,644.4 L553.3,643.7 L550.4,643.1 L547.5,642.5 L544.5,641.9 L541.6,641.2 L538.7,640.6 L535.7,640.1 L532.8,639.5 L529.8,638.9 L526.9,638.4 L523.9,637.9 L521.0,637.4 L518.0,637.0 L515.0,636.6 L512.1,636.2 L509.1,635.8 L506.1,635.5 L503.2,635.2 L500.2,634.9 L497.2,634.7 L494.2,634.5 L491.2,634.3 L488.2,634.1 L485.2,633.9 L482.2,633.7 L479.2,633.5 L476.2,633.3 L473.2,633.1 L470.3,632.9 L467.3,632.7 L464.3,632.5 L461.3,632.4 L458.3,632.2 L455.3,632.1 L452.3,631.9 L449.3,631.8 L446.3,631.7 L443.3,631.7 L440.3,631.6 L437.3,631.5 L434.3,631.5 L431.3,631.5 L428.3,631.5 L425.3,631.5 L422.3,631.5 L419.3,631.5 L416.3,631.5 L413.3,631.6 L410.3,631.7 L407.4,631.7 L404.4,631.8 L401.4,631.9 L398.4,632.1 L395.4,632.2 L392.4,632.4 L389.4,632.6 L386.4,632.8 L383.4,633.0 L380.4,633.2 L377.4,633.5 L374.5,633.8 L371.5,634.1 L368.5,634.4 L365.5,634.8 L362.6,635.2 L359.6,635.6 L356.6,636.0 L353.7,636.4 L350.7,636.9 L347.7,637.3 L344.8,637.7 L341.8,638.2 L338.8,638.6 L335.9,639.0 L332.9,639.5 L329.9,639.9 L326.9,640.3 L324.0,640.6 L321.0,641.0 L318.0,641.4 L315.0,641.8 L312.0,642.1 L309.1,642.5 L306.1,642.9 L303.1,643.2 L300.1,643.6 L297.2,644.0 L294.2,644.4 L291.2,644.8 L288.3,645.3 L285.3,645.7 L282.3,646.2 L279.4,646.6 L276.4,647.1 L273.5,647.6 L270.5,648.1 L267.6,648.6 L264.6,649.2 L261.6,649.7 L258.7,650.2 L255.7,650.7 L252.8,651.3 L249.9,651.9 L246.9,652.4 L244.0,653.0 L241.0,653.6 L238.1,654.2 L235.2,654.9 L232.3,655.6 L229.4,656.3 L226.5,657.1 L223.7,658.1 L221.0,659.2 L218.3,660.4 L215.7,661.9 L213.0,663.3 L210.3,664.6 Z" fill="url(#cabU)" opacity="1"/>
<path d="M210.3,664.6 L213.0,663.3 L215.7,661.9 L218.3,660.4 L221.0,659.2 L223.7,658.1 L226.5,657.1 L229.4,656.3 L232.3,655.6 L235.2,654.9 L238.1,654.2 L241.0,653.6 L244.0,653.0 L246.9,652.4 L249.9,651.9 L252.8,651.3 L255.7,650.7 L258.7,650.2 L261.6,649.7 L264.6,649.2 L267.6,648.6 L270.5,648.1 L273.5,647.6 L276.4,647.1 L279.4,646.6 L282.3,646.2 L285.3,645.7 L288.3,645.3 L291.2,644.8 L294.2,644.4 L297.2,644.0 L300.1,643.6 L303.1,643.2 L306.1,642.9 L309.1,642.5 L312.0,642.1 L315.0,641.8 L318.0,641.4 L321.0,641.0 L324.0,640.6 L326.9,640.3 L329.9,639.9 L332.9,639.5 L335.9,639.0 L338.8,638.6 L341.8,638.2 L344.8,637.7 L347.7,637.3 L350.7,636.9 L353.7,636.4 L356.6,636.0 L359.6,635.6 L362.6,635.2 L365.5,634.8 L368.5,634.4 L371.5,634.1 L374.5,633.8 L377.4,633.5 L380.4,633.2 L383.4,633.0 L386.4,632.8 L389.4,632.6 L392.4,632.4 L395.4,632.2 L398.4,632.1 L401.4,631.9 L404.4,631.8 L407.4,631.7 L410.3,631.7 L413.3,631.6 L416.3,631.5 L419.3,631.5 L422.3,631.5 L425.3,631.5 L428.3,631.5 L431.3,631.5 L434.3,631.5 L437.3,631.5 L440.3,631.6 L443.3,631.7 L446.3,631.7 L449.3,631.8 L452.3,631.9 L455.3,632.1 L458.3,632.2 L461.3,632.4 L464.3,632.5 L467.3,632.7 L470.3,632.9 L473.2,633.1 L476.2,633.3 L479.2,633.5 L482.2,633.7 L485.2,633.9 L488.2,634.1 L491.2,634.3 L494.2,634.5 L497.2,634.7 L500.2,634.9 L503.2,635.2 L506.1,635.5 L509.1,635.8 L512.1,636.2 L515.0,636.6 L518.0,637.0 L521.0,637.4 L523.9,637.9 L526.9,638.4 L529.8,638.9 L532.8,639.5 L535.7,640.1 L538.7,640.6 L541.6,641.2 L544.5,641.9 L547.5,642.5 L550.4,643.1 L553.3,643.7 L556.2,644.4 L559.2,645.0 L562.1,645.7 L565.0,646.3 L568.0,647.0 L570.9,647.7 L573.8,648.3 L576.7,649.0 L579.7,649.7 L582.6,650.3 L585.5,651.0 L588.4,651.7 L591.3,652.4 L594.3,653.0 L597.2,653.7 L600.1,654.4 L603.0,655.1 L606.0,655.8 L608.9,656.4 L611.8,657.1 L614.7,657.8 L617.6,658.5 L620.6,659.1 L623.5,659.8 L626.4,660.5 L629.3,661.1 L632.3,661.8 L635.2,662.5 L638.1,663.1 L641.0,663.8 L644.0,664.5 L646.9,665.2 L649.8,665.9 L652.7,666.6 L655.6,667.2 L658.6,667.9 L661.5,668.6 L664.4,669.3 L667.3,670.0 L670.2,670.7 L673.2,671.4 L676.1,672.0 L679.0,672.7 L681.9,673.4 L684.9,674.1 L687.8,674.7 L690.7,675.4 L693.6,676.1 L696.6,676.8 L699.5,677.4 L702.4,678.1 L705.3,678.8 L708.3,679.4 L711.2,680.1 L714.1,680.8 L717.0,681.4 L720.0,682.1 L722.9,682.7 L725.8,683.4 L728.7,684.1 L731.7,684.7 L734.6,685.4 L737.5,686.1 L740.4,686.7 L743.4,687.4 L746.3,688.0 L749.2,688.7 L752.1,689.4 L755.1,690.0 L754.2,693.9 L751.3,693.2 L748.4,692.5 L745.4,691.9 L742.5,691.2 L739.6,690.5 L736.7,689.9 L733.7,689.2 L730.8,688.5 L727.9,687.9 L724.9,687.2 L722.0,686.5 L719.1,685.9 L716.2,685.2 L713.2,684.5 L710.3,683.9 L707.4,683.2 L704.5,682.5 L701.5,681.9 L698.6,681.2 L695.7,680.5 L692.8,679.9 L689.8,679.2 L686.9,678.5 L684.0,677.8 L681.1,677.2 L678.1,676.5 L675.2,675.8 L672.3,675.1 L669.4,674.4 L666.4,673.7 L663.5,673.1 L660.6,672.4 L657.7,671.7 L654.8,671.0 L651.8,670.3 L648.9,669.6 L646.0,668.9 L643.1,668.2 L640.2,667.6 L637.2,666.9 L634.3,666.2 L631.4,665.5 L628.5,664.9 L625.6,664.2 L622.6,663.5 L619.7,662.9 L616.8,662.2 L613.9,661.5 L610.9,660.8 L608.0,660.2 L605.1,659.5 L602.2,658.8 L599.2,658.1 L596.3,657.4 L593.4,656.8 L590.5,656.1 L587.6,655.4 L584.6,654.7 L581.7,654.0 L578.8,653.4 L575.9,652.7 L573.0,652.0 L570.0,651.4 L567.1,650.7 L564.2,650.0 L561.3,649.4 L558.4,648.7 L555.4,648.1 L552.5,647.4 L549.6,646.8 L546.7,646.2 L543.7,645.5 L540.8,644.9 L537.9,644.3 L535.0,643.8 L532.1,643.2 L529.2,642.7 L526.2,642.1 L523.3,641.6 L520.4,641.2 L517.5,640.7 L514.5,640.3 L511.6,639.9 L508.7,639.5 L505.8,639.2 L502.8,638.9 L499.9,638.7 L496.9,638.5 L493.9,638.2 L491.0,638.1 L488.0,637.9 L485.0,637.7 L482.0,637.5 L479.0,637.2 L476.0,637.0 L473.0,636.8 L470.0,636.6 L467.0,636.4 L464.1,636.2 L461.1,636.1 L458.1,635.9 L455.1,635.8 L452.1,635.7 L449.2,635.6 L446.2,635.5 L443.2,635.4 L440.2,635.3 L437.3,635.2 L434.3,635.2 L431.3,635.2 L428.3,635.2 L425.3,635.2 L422.4,635.2 L419.4,635.2 L416.4,635.2 L413.4,635.3 L410.4,635.3 L407.5,635.4 L404.5,635.5 L401.5,635.6 L398.5,635.8 L395.6,635.9 L392.6,636.1 L389.6,636.2 L386.7,636.4 L383.7,636.6 L380.7,636.9 L377.8,637.1 L374.8,637.4 L371.9,637.7 L369.0,638.1 L366.0,638.4 L363.1,638.8 L360.1,639.2 L357.1,639.6 L354.2,640.1 L351.2,640.5 L348.3,640.9 L345.3,641.4 L342.3,641.8 L339.3,642.2 L336.4,642.7 L333.4,643.1 L330.4,643.5 L327.4,643.9 L324.4,644.2 L321.4,644.6 L318.4,645.0 L315.5,645.4 L312.5,645.7 L309.5,646.1 L306.5,646.5 L303.6,646.8 L300.6,647.2 L297.7,647.6 L294.7,648.0 L291.7,648.4 L288.8,648.9 L285.8,649.3 L282.9,649.7 L280.0,650.2 L277.0,650.7 L274.1,651.2 L271.1,651.7 L268.2,652.2 L265.2,652.7 L262.3,653.2 L259.3,653.7 L256.4,654.3 L253.5,654.8 L250.5,655.4 L247.6,656.0 L244.7,656.5 L241.8,657.1 L238.9,657.8 L236.0,658.4 L233.1,659.1 L230.3,659.8 L227.6,660.6 L224.9,661.4 L222.4,662.4 L219.9,663.6 L217.4,665.0 L214.6,666.5 L211.8,667.8 Z" fill="url(#cabL)" opacity="1"/>
<path d="M209.5,662.9 L212.2,661.6 L214.8,660.2 L217.4,658.8 L220.2,657.4 L223.1,656.3 L226.0,655.3 L228.9,654.5 L231.8,653.7 L234.8,653.0 L237.7,652.4 L240.7,651.8 L243.6,651.2 L246.5,650.6 L249.5,650.0 L252.4,649.4 L255.4,648.9 L258.4,648.3 L261.3,647.8 L264.3,647.3 L267.2,646.8 L270.2,646.2 L273.1,645.7 L276.1,645.2 L279.1,644.8 L282.0,644.3 L285.0,643.8 L288.0,643.4 L291.0,642.9 L293.9,642.5 L296.9,642.1 L299.9,641.7 L302.9,641.3 L305.8,641.0 L308.8,640.6 L311.8,640.2 L314.8,639.8 L317.8,639.5 L320.7,639.1 L323.7,638.7 L326.7,638.3 L329.7,637.9 L332.6,637.5 L335.6,637.1 L338.5,636.7 L341.5,636.3 L344.5,635.8 L347.4,635.4 L350.4,635.0 L353.4,634.5 L356.4,634.1 L359.3,633.7 L362.3,633.3 L365.3,632.9 L368.3,632.5 L371.3,632.2 L374.3,631.8 L377.3,631.5 L380.3,631.3 L383.3,631.0 L386.3,630.8 L389.3,630.6 L392.3,630.4 L395.3,630.3 L398.3,630.1 L401.3,630.0 L404.3,629.9 L407.3,629.8 L410.3,629.7 L413.3,629.6 L416.3,629.6 L419.3,629.5 L422.3,629.5 L425.3,629.5 L428.3,629.5 L431.3,629.5 L434.3,629.5 L437.3,629.6 L440.4,629.6 L443.4,629.7 L446.4,629.8 L449.4,629.9 L452.4,630.0 L455.4,630.1 L458.4,630.2 L461.4,630.4 L464.4,630.6 L467.4,630.7 L470.4,630.9 L473.4,631.1 L476.4,631.3 L479.4,631.5 L482.4,631.7 L485.3,632.0 L488.3,632.1 L491.3,632.3 L494.3,632.5 L497.3,632.7 L500.3,633.0 L503.3,633.2 L506.3,633.5 L509.3,633.8 L512.3,634.2 L515.3,634.6 L518.3,635.0 L521.3,635.5 L524.3,636.0 L527.2,636.5 L530.2,637.0 L533.1,637.5 L536.1,638.1 L539.0,638.7 L542.0,639.3 L544.9,639.9 L547.9,640.5 L550.8,641.1 L553.7,641.8 L556.7,642.4 L559.6,643.1 L562.5,643.7 L565.5,644.4 L568.4,645.0 L571.3,645.7 L574.3,646.4 L577.2,647.0 L580.1,647.7 L583.0,648.4 L586.0,649.1 L588.9,649.7 L591.8,650.4 L594.7,651.1 L597.6,651.8 L600.6,652.4 L603.5,653.1 L606.4,653.8 L609.3,654.5 L612.3,655.1 L615.2,655.8 L618.1,656.5 L621.0,657.1 L623.9,657.8 L626.9,658.5 L629.8,659.1 L632.7,659.8 L635.7,660.5 L638.6,661.2 L641.5,661.8 L644.4,662.5 L647.3,663.2 L650.3,663.9 L653.2,664.6 L656.1,665.3 L659.0,666.0 L661.9,666.6 L664.9,667.3 L667.8,668.0 L670.7,668.7 L673.6,669.4 L676.6,670.1 L679.5,670.7 L682.4,671.4 L685.3,672.1 L688.2,672.8 L691.2,673.4 L694.1,674.1 L697.0,674.8 L699.9,675.4 L702.9,676.1 L705.8,676.8 L708.7,677.4 L711.6,678.1 L714.6,678.7 L717.5,679.4 L720.4,680.1 L723.3,680.7 L726.3,681.4 L729.2,682.1 L732.1,682.7 L735.0,683.4 L738.0,684.0 L740.9,684.7 L743.8,685.4 L746.7,686.0 L749.7,686.7 L752.6,687.4 L755.5,688.0" fill="none" stroke="url(#stU)" stroke-width="3.96" stroke-dasharray="1.1 1.3" opacity="1"/>
<path d="M210.3,664.6 L213.0,663.3 L215.7,661.9 L218.3,660.4 L221.0,659.2 L223.7,658.1 L226.5,657.1 L229.4,656.3 L232.3,655.6 L235.2,654.9 L238.1,654.2 L241.0,653.6 L244.0,653.0 L246.9,652.4 L249.9,651.9 L252.8,651.3 L255.7,650.7 L258.7,650.2 L261.6,649.7 L264.6,649.2 L267.6,648.6 L270.5,648.1 L273.5,647.6 L276.4,647.1 L279.4,646.6 L282.3,646.2 L285.3,645.7 L288.3,645.3 L291.2,644.8 L294.2,644.4 L297.2,644.0 L300.1,643.6 L303.1,643.2 L306.1,642.9 L309.1,642.5 L312.0,642.1 L315.0,641.8 L318.0,641.4 L321.0,641.0 L324.0,640.6 L326.9,640.3 L329.9,639.9 L332.9,639.5 L335.9,639.0 L338.8,638.6 L341.8,638.2 L344.8,637.7 L347.7,637.3 L350.7,636.9 L353.7,636.4 L356.6,636.0 L359.6,635.6 L362.6,635.2 L365.5,634.8 L368.5,634.4 L371.5,634.1 L374.5,633.8 L377.4,633.5 L380.4,633.2 L383.4,633.0 L386.4,632.8 L389.4,632.6 L392.4,632.4 L395.4,632.2 L398.4,632.1 L401.4,631.9 L404.4,631.8 L407.4,631.7 L410.3,631.7 L413.3,631.6 L416.3,631.5 L419.3,631.5 L422.3,631.5 L425.3,631.5 L428.3,631.5 L431.3,631.5 L434.3,631.5 L437.3,631.5 L440.3,631.6 L443.3,631.7 L446.3,631.7 L449.3,631.8 L452.3,631.9 L455.3,632.1 L458.3,632.2 L461.3,632.4 L464.3,632.5 L467.3,632.7 L470.3,632.9 L473.2,633.1 L476.2,633.3 L479.2,633.5 L482.2,633.7 L485.2,633.9 L488.2,634.1 L491.2,634.3 L494.2,634.5 L497.2,634.7 L500.2,634.9 L503.2,635.2 L506.1,635.5 L509.1,635.8 L512.1,636.2 L515.0,636.6 L518.0,637.0 L521.0,637.4 L523.9,637.9 L526.9,638.4 L529.8,638.9 L532.8,639.5 L535.7,640.1 L538.7,640.6 L541.6,641.2 L544.5,641.9 L547.5,642.5 L550.4,643.1 L553.3,643.7 L556.2,644.4 L559.2,645.0 L562.1,645.7 L565.0,646.3 L568.0,647.0 L570.9,647.7 L573.8,648.3 L576.7,649.0 L579.7,649.7 L582.6,650.3 L585.5,651.0 L588.4,651.7 L591.3,652.4 L594.3,653.0 L597.2,653.7 L600.1,654.4 L603.0,655.1 L606.0,655.8 L608.9,656.4 L611.8,657.1 L614.7,657.8 L617.6,658.5 L620.6,659.1 L623.5,659.8 L626.4,660.5 L629.3,661.1 L632.3,661.8 L635.2,662.5 L638.1,663.1 L641.0,663.8 L644.0,664.5 L646.9,665.2 L649.8,665.9 L652.7,666.6 L655.6,667.2 L658.6,667.9 L661.5,668.6 L664.4,669.3 L667.3,670.0 L670.2,670.7 L673.2,671.4 L676.1,672.0 L679.0,672.7 L681.9,673.4 L684.9,674.1 L687.8,674.7 L690.7,675.4 L693.6,676.1 L696.6,676.8 L699.5,677.4 L702.4,678.1 L705.3,678.8 L708.3,679.4 L711.2,680.1 L714.1,680.8 L717.0,681.4 L720.0,682.1 L722.9,682.7 L725.8,683.4 L728.7,684.1 L731.7,684.7 L734.6,685.4 L737.5,686.1 L740.4,686.7 L743.4,687.4 L746.3,688.0 L749.2,688.7 L752.1,689.4 L755.1,690.0" fill="none" stroke="#3a3a3a" stroke-width="0.99" stroke-dasharray="20 0" opacity="0.8"/>
<path d="M211.0,666.2 L213.8,664.9 L216.5,663.4 L219.1,662.0 L221.7,660.8 L224.3,659.8 L227.1,658.8 L229.9,658.0 L232.7,657.3 L235.6,656.6 L238.5,656.0 L241.4,655.4 L244.3,654.8 L247.3,654.2 L250.2,653.6 L253.1,653.1 L256.1,652.5 L259.0,652.0 L262.0,651.4 L264.9,650.9 L267.9,650.4 L270.8,649.9 L273.8,649.4 L276.7,648.9 L279.7,648.4 L282.6,648.0 L285.6,647.5 L288.5,647.1 L291.5,646.6 L294.4,646.2 L297.4,645.8 L300.4,645.4 L303.3,645.0 L306.3,644.7 L309.3,644.3 L312.3,643.9 L315.2,643.6 L318.2,643.2 L321.2,642.8 L324.2,642.4 L327.2,642.1 L330.1,641.7 L333.1,641.3 L336.1,640.8 L339.1,640.4 L342.1,640.0 L345.0,639.6 L348.0,639.1 L351.0,638.7 L353.9,638.3 L356.9,637.8 L359.9,637.4 L362.8,637.0 L365.8,636.6 L368.7,636.3 L371.7,635.9 L374.7,635.6 L377.6,635.3 L380.6,635.0 L383.6,634.8 L386.5,634.6 L389.5,634.4 L392.5,634.2 L395.5,634.1 L398.5,633.9 L401.4,633.8 L404.4,633.7 L407.4,633.6 L410.4,633.5 L413.4,633.4 L416.4,633.4 L419.4,633.3 L422.3,633.3 L425.3,633.3 L428.3,633.3 L431.3,633.3 L434.3,633.3 L437.3,633.4 L440.3,633.4 L443.3,633.5 L446.2,633.6 L449.2,633.7 L452.2,633.8 L455.2,633.9 L458.2,634.1 L461.2,634.2 L464.2,634.4 L467.2,634.6 L470.1,634.7 L473.1,634.9 L476.1,635.2 L479.1,635.4 L482.1,635.6 L485.1,635.8 L488.1,636.0 L491.1,636.2 L494.1,636.4 L497.1,636.6 L500.0,636.8 L503.0,637.1 L505.9,637.4 L508.9,637.7 L511.8,638.0 L514.8,638.4 L517.7,638.8 L520.7,639.3 L523.6,639.8 L526.6,640.3 L529.5,640.8 L532.4,641.3 L535.4,641.9 L538.3,642.5 L541.2,643.1 L544.1,643.7 L547.1,644.3 L550.0,644.9 L552.9,645.6 L555.8,646.2 L558.8,646.9 L561.7,647.5 L564.6,648.2 L567.5,648.8 L570.5,649.5 L573.4,650.2 L576.3,650.8 L579.2,651.5 L582.1,652.2 L585.1,652.9 L588.0,653.5 L590.9,654.2 L593.8,654.9 L596.8,655.6 L599.7,656.3 L602.6,656.9 L605.5,657.6 L608.4,658.3 L611.4,659.0 L614.3,659.7 L617.2,660.3 L620.2,661.0 L623.1,661.7 L626.0,662.3 L628.9,663.0 L631.8,663.7 L634.8,664.3 L637.7,665.0 L640.6,665.7 L643.5,666.4 L646.4,667.1 L649.4,667.7 L652.3,668.4 L655.2,669.1 L658.1,669.8 L661.0,670.5 L664.0,671.2 L666.9,671.9 L669.8,672.6 L672.7,673.2 L675.6,673.9 L678.6,674.6 L681.5,675.3 L684.4,676.0 L687.3,676.6 L690.3,677.3 L693.2,678.0 L696.1,678.6 L699.0,679.3 L702.0,680.0 L704.9,680.7 L707.8,681.3 L710.7,682.0 L713.7,682.6 L716.6,683.3 L719.5,684.0 L722.5,684.6 L725.4,685.3 L728.3,686.0 L731.2,686.6 L734.2,687.3 L737.1,688.0 L740.0,688.6 L742.9,689.3 L745.9,690.0 L748.8,690.6 L751.7,691.3 L754.6,691.9" fill="none" stroke="#555" stroke-width="3.52" stroke-dasharray="1.1 1.3" opacity="0.6"/>
<path d="M207.8,659.2 L210.4,658.0 L212.9,656.7 L215.6,655.2 L218.6,653.8 L221.7,652.5 L224.8,651.5 L227.8,650.6 L230.9,649.8 L233.9,649.1 L236.9,648.5 L239.8,647.8 L242.8,647.2 L245.8,646.6 L248.7,646.0 L251.7,645.5 L254.7,644.9 L257.6,644.4 L260.6,643.8 L263.6,643.3 L266.5,642.8 L269.5,642.3 L272.5,641.8 L275.4,641.3 L278.4,640.8 L281.4,640.3 L284.4,639.8 L287.4,639.4 L290.4,638.9 L293.4,638.5 L296.4,638.1 L299.4,637.7 L302.4,637.3 L305.3,636.9 L308.3,636.6 L311.3,636.2 L314.3,635.8 L317.3,635.4 L320.2,635.1 L323.2,634.7 L326.2,634.3 L329.1,633.9 L332.1,633.5 L335.0,633.1 L338.0,632.7 L340.9,632.2 L343.9,631.8 L346.9,631.4 L349.8,630.9 L352.8,630.5 L355.8,630.0 L358.8,629.6 L361.8,629.2 L364.8,628.8 L367.8,628.4 L370.8,628.1 L373.8,627.8 L376.9,627.5 L379.9,627.2 L383.0,626.9 L386.0,626.7 L389.0,626.5 L392.0,626.3 L395.1,626.2 L398.1,626.0 L401.1,625.9 L404.1,625.8 L407.2,625.7 L410.2,625.6 L413.2,625.5 L416.2,625.4 L419.3,625.4 L422.3,625.4 L425.3,625.4 L428.3,625.3 L431.4,625.4 L434.4,625.4 L437.4,625.4 L440.4,625.5 L443.5,625.5 L446.5,625.6 L449.5,625.7 L452.5,625.8 L455.6,625.9 L458.6,626.1 L461.6,626.2 L464.6,626.4 L467.6,626.6 L470.6,626.7 L473.7,626.9 L476.7,627.2 L479.7,627.4 L482.7,627.6 L485.6,627.8 L488.6,628.0 L491.6,628.2 L494.6,628.4 L497.6,628.6 L500.7,628.8 L503.7,629.1 L506.8,629.3 L509.8,629.7 L512.9,630.0 L515.9,630.4 L518.9,630.9 L521.9,631.3 L524.9,631.8 L527.9,632.3 L530.9,632.8 L533.9,633.4 L536.9,634.0 L539.9,634.5 L542.8,635.1 L545.8,635.8 L548.7,636.4 L551.7,637.0 L554.6,637.6 L557.6,638.3 L560.5,638.9 L563.5,639.6 L566.4,640.2 L569.3,640.9 L572.3,641.6 L575.2,642.2 L578.1,642.9 L581.1,643.6 L584.0,644.2 L586.9,644.9 L589.8,645.6 L592.8,646.3 L595.7,646.9 L598.6,647.6 L601.5,648.3 L604.4,649.0 L607.4,649.6 L610.3,650.3 L613.2,651.0 L616.1,651.7 L619.0,652.3 L622.0,653.0 L624.9,653.6 L627.8,654.3 L630.8,655.0 L633.7,655.6 L636.6,656.3 L639.5,657.0 L642.5,657.7 L645.4,658.4 L648.3,659.0 L651.2,659.7 L654.2,660.4 L657.1,661.1 L660.0,661.8 L662.9,662.4 L665.9,663.1 L668.8,663.8 L671.7,664.5 L674.6,665.2 L677.5,665.9 L680.4,666.5 L683.4,667.2 L686.3,667.9 L689.2,668.5 L692.1,669.2 L695.1,669.9 L698.0,670.5 L700.9,671.2 L703.8,671.9 L706.7,672.5 L709.7,673.2 L712.6,673.9 L715.5,674.5 L718.4,675.2 L721.4,675.8 L724.3,676.5 L727.2,677.2 L730.2,677.8 L733.1,678.5 L736.0,679.1 L738.9,679.8 L741.9,680.5 L744.8,681.1 L747.7,681.8 L750.6,682.4 L753.6,683.1 L756.5,683.8 L755.9,686.2 L753.0,685.6 L750.1,684.9 L747.2,684.2 L744.2,683.6 L741.3,682.9 L738.4,682.3 L735.4,681.6 L732.5,680.9 L729.6,680.3 L726.7,679.6 L723.7,679.0 L720.8,678.3 L717.9,677.6 L715.0,677.0 L712.0,676.3 L709.1,675.6 L706.2,675.0 L703.3,674.3 L700.3,673.6 L697.4,673.0 L694.5,672.3 L691.6,671.6 L688.6,671.0 L685.7,670.3 L682.8,669.6 L679.9,669.0 L677.0,668.3 L674.0,667.6 L671.1,666.9 L668.2,666.2 L665.3,665.6 L662.4,664.9 L659.4,664.2 L656.5,663.5 L653.6,662.8 L650.7,662.1 L647.8,661.5 L644.8,660.8 L641.9,660.1 L639.0,659.4 L636.1,658.7 L633.1,658.1 L630.2,657.4 L627.3,656.7 L624.3,656.1 L621.4,655.4 L618.5,654.7 L615.6,654.1 L612.7,653.4 L609.7,652.7 L606.8,652.0 L603.9,651.4 L601.0,650.7 L598.0,650.0 L595.1,649.3 L592.2,648.7 L589.3,648.0 L586.4,647.3 L583.4,646.6 L580.5,646.0 L577.6,645.3 L574.7,644.6 L571.7,644.0 L568.8,643.3 L565.9,642.6 L562.9,642.0 L560.0,641.3 L557.1,640.7 L554.1,640.0 L551.2,639.4 L548.2,638.8 L545.3,638.2 L542.3,637.5 L539.4,636.9 L536.4,636.4 L533.5,635.8 L530.5,635.2 L527.5,634.7 L524.5,634.2 L521.6,633.7 L518.6,633.3 L515.6,632.8 L512.5,632.4 L509.5,632.1 L506.5,631.8 L503.5,631.5 L500.5,631.2 L497.5,631.0 L494.5,630.8 L491.4,630.6 L488.5,630.4 L485.5,630.2 L482.5,630.0 L479.5,629.8 L476.5,629.6 L473.5,629.4 L470.5,629.2 L467.5,629.0 L464.5,628.8 L461.5,628.6 L458.5,628.5 L455.5,628.4 L452.4,628.2 L449.4,628.1 L446.4,628.0 L443.4,627.9 L440.4,627.9 L437.4,627.8 L434.4,627.8 L431.3,627.8 L428.3,627.7 L425.3,627.7 L422.3,627.8 L419.3,627.8 L416.3,627.8 L413.3,627.9 L410.3,628.0 L407.2,628.0 L404.2,628.1 L401.2,628.3 L398.2,628.4 L395.2,628.5 L392.2,628.7 L389.2,628.9 L386.1,629.1 L383.1,629.3 L380.1,629.6 L377.1,629.8 L374.1,630.1 L371.1,630.4 L368.1,630.8 L365.1,631.2 L362.1,631.6 L359.1,632.0 L356.1,632.4 L353.1,632.8 L350.2,633.3 L347.2,633.7 L344.2,634.1 L341.3,634.6 L338.3,635.0 L335.3,635.4 L332.4,635.8 L329.4,636.2 L326.5,636.6 L323.5,637.0 L320.5,637.4 L317.5,637.8 L314.6,638.1 L311.6,638.5 L308.6,638.9 L305.6,639.3 L302.7,639.6 L299.7,640.0 L296.7,640.4 L293.7,640.8 L290.7,641.3 L287.7,641.7 L284.8,642.1 L281.8,642.6 L278.8,643.1 L275.8,643.6 L272.9,644.1 L269.9,644.6 L266.9,645.1 L264.0,645.6 L261.0,646.1 L258.1,646.7 L255.1,647.2 L252.1,647.8 L249.2,648.3 L246.2,648.9 L243.3,649.5 L240.3,650.1 L237.3,650.7 L234.4,651.4 L231.4,652.1 L228.5,652.9 L225.5,653.7 L222.5,654.7 L219.5,655.9 L216.7,657.3 L214.0,658.7 L211.4,660.1 L208.8,661.3 Z" fill="#0e0e0e" opacity="1"/>
<path d="M109.2,635 L190,604.7 C197,602 205,601.5 211,604 C218,607 221.7,617 221.7,628 C221.7,638 217,644 210,647.5 L114,684.5 C104,688.5 91.9,675 91.9,660 C91.9,646 99.2,638.75 109.2,635 Z" fill="#1d1d1d"/>
<rect x="-12" y="-10" width="24" height="20" rx="4" fill="#141414" transform="translate(229,615.5) rotate(-16)"/>
<path d="M118,639.2 L190,611.1 C196,608.8 201,608 206,609 C214,611 219,619 219,629 C219,638 215,643 208,646.5 L120,680.3 C111,683.5 102.6,675 102.6,660 C102.6,650 109,642.7 118,639.2 Z" fill="url(#bface)"/>
<circle cx="121.7" cy="660" r="9.5" fill="url(#led)"/>
<circle cx="136.7" cy="653.3" r="9.5" fill="url(#led)"/>
<circle cx="155" cy="646.7" r="9.5" fill="url(#led)"/>
<circle cx="171.7" cy="640" r="9.5" fill="url(#led)"/>
<circle cx="190" cy="630.8" r="9.5" fill="url(#led)"/>
<circle cx="205" cy="625" r="9.5" fill="url(#led)"/>
<path d="M103.2,668 C102.8,652 109.5,643.2 118.2,639.7 L190,611.6 C196,609.3 201,608.5 206,609.5" fill="none" stroke="#eef0f6" stroke-width="1.1" opacity="0.8"/>
<path d="M186,666 L194,661.7 L208,658.6 C212,658.6 214.5,662 214.5,667 C214.5,671 213.5,674 211,675.5 L197,684 L186,686 Z" fill="#2251c4"/>
<path d="M53.5,732 C53.5,720 59,711 68,707.7 L150,668 C160,663 167,660 175,660 C186,660 194.5,668 194.5,680 C194.5,692 190,701 182,709.5 C172,719 152,733 133.5,743 L104,757 L70,762 C58,755 53.5,744 53.5,732 Z" fill="url(#blueg)"/>
<path d="M66.1,739.5 C66.1,728 69,720 74,716.4 C76,715 79,714 82,712.8 L165,675.4 C171,672.7 176,670 181,670.5 C188,671.5 191.5,679 191.5,688 C191.5,697 187,703 180,707.5 C170,716 150,731 132.5,741 L103.3,754.2 C90,760 66.1,757 66.1,739.5 Z" fill="url(#uface)"/>
<circle cx="85.8" cy="733.8" r="10.5" fill="url(#led)"/>
<circle cx="103.3" cy="723.5" r="10.5" fill="url(#led)"/>
<circle cx="122.3" cy="714.8" r="10.5" fill="url(#led)"/>
<circle cx="141.3" cy="704.6" r="10.5" fill="url(#led)"/>
<circle cx="160.2" cy="695.8" r="10.5" fill="url(#led)"/>
<circle cx="176.3" cy="688.5" r="10.5" fill="url(#led)"/>
<rect x="755.5" y="637.5" width="24" height="24.5" rx="5" fill="#161616"/>
<rect x="758.5" y="638.5" width="3" height="22.5" rx="1.5" fill="#4a4a4a"/>
<rect x="769" y="638.5" width="3" height="22.5" rx="1.5" fill="#3a3a3a"/>
<polygon points="778,643 786,638 806,636.3 859.5,652 859.5,685 851,692 778,688" fill="#242424" />
<polygon points="786,638 806,636.3 859.5,652 851,661.5 796,648 781,646" fill="#2e2e2e" />
<polygon points="806,636.3 840,646.3 836,652.5 803,643" fill="#1c1c1c" />
<line x1="810.0" y1="638.7" x2="806.0" y2="645.0" stroke="#3c3c3c" stroke-width="1"/>
<line x1="813.6" y1="639.7" x2="809.6" y2="646.0" stroke="#3c3c3c" stroke-width="1"/>
<line x1="817.2" y1="640.8" x2="813.2" y2="647.1" stroke="#3c3c3c" stroke-width="1"/>
<line x1="820.8" y1="641.9" x2="816.8" y2="648.2" stroke="#3c3c3c" stroke-width="1"/>
<line x1="824.4" y1="642.9" x2="820.4" y2="649.2" stroke="#3c3c3c" stroke-width="1"/>
<line x1="828.0" y1="644.0" x2="824.0" y2="650.3" stroke="#3c3c3c" stroke-width="1"/>
<line x1="831.6" y1="645.0" x2="827.6" y2="651.3" stroke="#3c3c3c" stroke-width="1"/>
<line x1="835.2" y1="646.1" x2="831.2" y2="652.4" stroke="#3c3c3c" stroke-width="1"/>
<path d="M781,646 L796,648 L851,661.5" stroke="#6a6a6a" stroke-width="1.3" fill="none"/>
<polygon points="851,661.5 859.5,652 859.5,685 851,692" fill="#1a1a1a" />
<path d="M797,653 L846,662 L846,684 L797,676 Z" fill="none" stroke="#333" stroke-width="1.2"/>
<path d="M809,665 L832,669 M809,672 L832,676" stroke="#3a3a3a" stroke-width="1.2" fill="none"/>
<circle cx="805" cy="662" r="1.2" fill="#111"/><circle cx="805" cy="676" r="1.2" fill="#111"/>
<polygon points="851,661.5 893,669.5 889,674 851,667" fill="#d6d6d6" />
<defs><linearGradient id="plug" x1="0" y1="0" x2="0" y2="1"><stop offset="0" stop-color="#b4b4b4"/><stop offset="1" stop-color="#7c7c7c"/></linearGradient></defs>
<polygon points="851,667 889,674 888,706 851,697" fill="url(#plug)" />
<polygon points="889,674 893,669.5 893,703 888,706" fill="#3c3c3c" />
<polygon points="864,675 870,676 870,682.5 864,681.5" fill="#2a2a2a" />
<polygon points="862,691.5 867,692.5 867,697.5 862,696.5" fill="#2a2a2a" />
<ellipse cx="857" cy="684" rx="2.2" ry="3" fill="#777"/>
<rect x="755" y="682.5" width="25" height="26" rx="5" fill="#1f4fc4"/>
<rect x="757" y="683.5" width="3.5" height="24" rx="1.5" fill="#4f7fe6"/>
<rect x="763" y="684" width="3" height="23" rx="1.5" fill="#153a96"/>
<rect x="767.5" y="683.5" width="3.5" height="24" rx="1.5" fill="#3f70e0"/>
<rect x="773" y="684" width="3" height="23" rx="1.5" fill="#153a96"/>
<polygon points="779,687 805,681.7 865.5,693.3 858.5,704.5 783,693.5" fill="#3a6fe4" />
<polygon points="779,687 783,693.5 858.5,704.5 858.5,748.5 853,748.5 799,730.5 784,721 779,716" fill="#2255cf" />
<polygon points="858.5,704.5 865.5,693.3 865.5,745.5 858.5,748.5" fill="#1a43ab" />
<line x1="818.0" y1="687.0" x2="812.0" y2="697.0" stroke="#1a3f9e" stroke-width="1.1"/>
<line x1="821.2" y1="687.6" x2="815.2" y2="697.5" stroke="#1a3f9e" stroke-width="1.1"/>
<line x1="824.4" y1="688.2" x2="818.4" y2="698.0" stroke="#1a3f9e" stroke-width="1.1"/>
<line x1="827.6" y1="688.8" x2="821.6" y2="698.5" stroke="#1a3f9e" stroke-width="1.1"/>
<line x1="830.8" y1="689.4" x2="824.8" y2="699.0" stroke="#1a3f9e" stroke-width="1.1"/>
<line x1="834.0" y1="690.0" x2="828.0" y2="699.5" stroke="#1a3f9e" stroke-width="1.1"/>
<line x1="837.2" y1="690.6" x2="831.2" y2="699.9" stroke="#1a3f9e" stroke-width="1.1"/>
<path d="M801,706 L845,713 L845,738 L801,729 Z" fill="none" stroke="#1b48b4" stroke-width="1.5"/>
<path d="M812,714 L836,718 M812,722 L836,726" stroke="#1b48b4" stroke-width="1.3" fill="none"/>
<circle cx="807" cy="711" r="1.4" fill="#123a9a"/><circle cx="807" cy="727" r="1.4" fill="#123a9a"/>
<polygon points="858.3,705.5 903.3,711.5 899,716 859,710.5" fill="#e4e4e4" />
<defs><linearGradient id="plug2" x1="0" y1="0" x2="0" y2="1"><stop offset="0" stop-color="#d2d2d2"/><stop offset="1" stop-color="#a6a6a6"/></linearGradient></defs>
<polygon points="859,710.5 899,716 899,752.5 859.2,743.3" fill="url(#plug2)" />
<polygon points="899,716 903.3,711.5 903,749.5 899,752.5" fill="#4a4a4a" />
<polygon points="873.3,719.2 879.2,720 879.2,726.5 873.3,725.8" fill="#1e1e1e" />
<polygon points="874.2,735.8 880,736.6 880,743.2 874.2,742.5" fill="#1e1e1e" />
<ellipse cx="866.5" cy="728" rx="2" ry="2.8" fill="#8a8a8a"/>
<path d="M66.8,748 C66.6,728 69.5,720.5 74.5,716.9 C76.5,715.5 79.5,714.5 82.5,713.3 L165,675.9 C171,673.2 176,670.5 181,671" fill="none" stroke="#e8eaf2" stroke-width="1.1" opacity="0.8"/>
<rect x="102" y="728" width="2" height="27" fill="#000"/>
<rect x="207" y="636.5" width="2" height="118.5" fill="#000"/>
<path d="M203.3,741 L208,755 L212.8,741 L208,749 Z" fill="#000"/>
<rect x="541" y="598" width="2" height="157" fill="#000"/>
<rect x="828" y="677" width="2" height="78" fill="#000"/>
</svg>
</body>
</html>
